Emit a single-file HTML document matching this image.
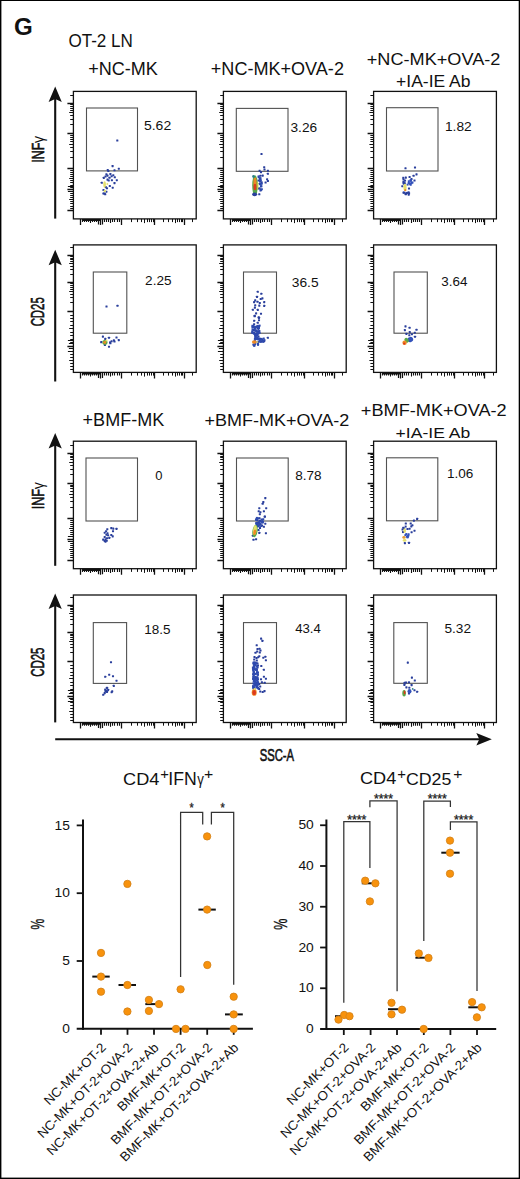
<!DOCTYPE html><html><head><meta charset="utf-8"><style>html,body{margin:0;padding:0;background:#fff;}svg{display:block;}text{font-family:"Liberation Sans",sans-serif;}</style></head><body>
<svg width="520" height="1179" viewBox="0 0 520 1179">
<rect x="0" y="0" width="520" height="1179" fill="#fff"/>
<rect x="0" y="0" width="520" height="1.0" fill="#000"/><rect x="0" y="0" width="1.4" height="1179" fill="#000"/><rect x="518.7" y="0" width="1.3" height="1179" fill="#000"/><rect x="0" y="1177.6" width="520" height="1.4" fill="#000"/>
<text x="14.03" y="34.75" font-size="24.73" font-weight="bold" textLength="18.78" lengthAdjust="spacingAndGlyphs" fill="#111" >G</text>
<text x="68.39" y="47.42" font-size="17.53" font-weight="normal" textLength="64.5" lengthAdjust="spacingAndGlyphs" fill="#111" >OT-2 LN</text>
<text x="88.3" y="75.22" font-size="17.81" font-weight="normal" textLength="69.61" lengthAdjust="spacingAndGlyphs" fill="#111" >+NC-MK</text>
<text x="210.8" y="75.22" font-size="17.67" font-weight="normal" textLength="133.14" lengthAdjust="spacingAndGlyphs" fill="#111" >+NC-MK+OVA-2</text>
<text x="366.79" y="65.33" font-size="17.39" font-weight="normal" textLength="133.55" lengthAdjust="spacingAndGlyphs" fill="#111" >+NC-MK+OVA-2</text>
<text x="396.13" y="86.64" font-size="16.33" font-weight="normal" textLength="74.37" lengthAdjust="spacingAndGlyphs" fill="#111" >+IA-IE Ab</text>
<text x="82.6" y="426.2" font-size="17.45" font-weight="normal" textLength="81.63" lengthAdjust="spacingAndGlyphs" fill="#111" >+BMF-MK</text>
<text x="204.6" y="426.23" font-size="17.24" font-weight="normal" textLength="144.62" lengthAdjust="spacingAndGlyphs" fill="#111" >+BMF-MK+OVA-2</text>
<text x="360.89" y="416.03" font-size="16.54" font-weight="normal" textLength="145.83" lengthAdjust="spacingAndGlyphs" fill="#111" >+BMF-MK+OVA-2</text>
<text x="395.62" y="437.54" font-size="15.51" font-weight="normal" textLength="74.58" lengthAdjust="spacingAndGlyphs" fill="#111" >+IA-IE Ab</text>
<g transform="translate(43.8,161.5) rotate(-90)">
<text x="-1.15" y="0" font-size="17.16" font-weight="normal" textLength="20.02" lengthAdjust="spacingAndGlyphs" fill="#111" stroke="#111" stroke-width="0.6">INF</text>
<text x="18.59" y="0" font-size="17.16" textLength="6.98" lengthAdjust="spacingAndGlyphs" fill="#111">γ</text>
</g>
<g transform="translate(44.4,325.8) rotate(-90)">
<text x="-0.57" y="0" font-size="18.62" font-weight="normal" textLength="29.15" lengthAdjust="spacingAndGlyphs" fill="#111" stroke="#111" stroke-width="0.6">CD25</text>
</g>
<g transform="translate(43.8,508.1) rotate(-90)">
<text x="-1.16" y="0" font-size="17.16" font-weight="normal" textLength="20.25" lengthAdjust="spacingAndGlyphs" fill="#111" stroke="#111" stroke-width="0.6">INF</text>
<text x="18.81" y="0" font-size="17.16" textLength="7.07" lengthAdjust="spacingAndGlyphs" fill="#111">γ</text>
</g>
<g transform="translate(44.4,676.2) rotate(-90)">
<text x="-0.57" y="0" font-size="18.62" font-weight="normal" textLength="29.25" lengthAdjust="spacingAndGlyphs" fill="#111" stroke="#111" stroke-width="0.6">CD25</text>
</g>
<line x1="55.2" y1="94.5" x2="55.2" y2="218.6" stroke="#111" stroke-width="2.1"/>
<path d="M55.2 86.5 L61.8 102 L55.2 99 L48.6 102 Z" fill="#111"/>
<line x1="55.2" y1="257.7" x2="55.2" y2="381.5" stroke="#111" stroke-width="2.1"/>
<path d="M55.2 249.7 L61.8 265.2 L55.2 262.2 L48.6 265.2 Z" fill="#111"/>
<line x1="55.2" y1="441" x2="55.2" y2="565.8" stroke="#111" stroke-width="2.1"/>
<path d="M55.2 433 L61.8 448.5 L55.2 445.5 L48.6 448.5 Z" fill="#111"/>
<line x1="55.2" y1="601.5" x2="55.2" y2="722.4" stroke="#111" stroke-width="2.1"/>
<path d="M55.2 593.5 L61.8 609 L55.2 606 L48.6 609 Z" fill="#111"/>
<line x1="55.2" y1="739.3" x2="484" y2="739.3" stroke="#111" stroke-width="2.1"/>
<path d="M491.8 739.3 L476.3 733.0 L479.3 739.3 L476.3 745.6 Z" fill="#111"/>
<text x="259.69" y="760.64" font-size="16.4" font-weight="normal" textLength="34.32" lengthAdjust="spacingAndGlyphs" fill="#111" stroke="#111" stroke-width="0.6">SSC-A</text>
<path d="M80.5 218.9v6M100.5 218.9v6M121.5 218.9v6M154.5 218.9v6M184.5 218.9v6M73.4 210.5h-6M73.4 189.5h-6M73.4 168.5h-6M73.4 133.5h-6M73.4 103.5h-6" stroke="#111" stroke-width="1.3" fill="none"/>
<path d="M98.5 218.9v5.5M102.5 218.9v5.5M73.4 186.5h-5.5M73.4 191.5h-5.5" stroke="#111" stroke-width="1.2" fill="none"/>
<path d="M98.5 218.9v3.2M102.5 218.9v3.2M96.5 218.9v3.2M104.5 218.9v3.2M94.5 218.9v3.2M106.5 218.9v3.2M92.5 218.9v3.2M108.5 218.9v3.2M90.5 218.9v4.2M110.5 218.9v4.2M88.5 218.9v3.2M112.5 218.9v3.2M86.5 218.9v3.2M114.5 218.9v3.2M84.5 218.9v3.2M117.5 218.9v3.2M82.5 218.9v3.2M119.5 218.9v3.2M99.5 218.9v2.2M97.5 218.9v2.2M95.5 218.9v2.2M93.5 218.9v2.2M91.5 218.9v2.2M89.5 218.9v2.2M87.5 218.9v2.2M85.5 218.9v2.2M83.5 218.9v2.2M73.4 191.5h-3.2M73.4 187.5h-3.2M73.4 193.5h-3.2M73.4 185.5h-3.2M73.4 195.5h-3.2M73.4 182.5h-3.2M73.4 197.5h-3.2M73.4 180.5h-3.2M73.4 199.5h-4.2M73.4 178.5h-4.2M73.4 201.5h-3.2M73.4 176.5h-3.2M73.4 203.5h-3.2M73.4 174.5h-3.2M73.4 206.5h-3.2M73.4 172.5h-3.2M73.4 208.5h-3.2M73.4 170.5h-3.2" stroke="#111" stroke-width="1.1" fill="none"/>
<path d="M131.5 218.9v3.2M137.5 218.9v3.2M141.5 218.9v3.2M144.5 218.9v4.2M147.5 218.9v3.2M149.5 218.9v3.2M151.5 218.9v3.2M153.5 218.9v3.2M163.5 218.9v3.2M168.5 218.9v3.2M172.5 218.9v3.2M175.5 218.9v4.2M177.5 218.9v3.2M179.5 218.9v3.2M181.5 218.9v3.2M182.5 218.9v3.2M192.5 218.9v3.2M73.4 157.5h-3.2M73.4 151.5h-3.2M73.4 147.5h-3.2M73.4 144.5h-4.2M73.4 141.5h-3.2M73.4 139.5h-3.2M73.4 137.5h-3.2M73.4 135.5h-3.2M73.4 124.5h-3.2M73.4 119.5h-3.2M73.4 115.5h-3.2M73.4 112.5h-4.2M73.4 110.5h-3.2M73.4 108.5h-3.2M73.4 106.5h-3.2M73.4 104.5h-3.2M73.4 95.5h-3.2" stroke="#111" stroke-width="1" fill="none"/>
<rect x="73.4" y="91.4" width="122.8" height="127.5" fill="none" stroke="#111" stroke-width="1.3"/>
<rect x="86.5" y="108" width="51" height="62.9" fill="none" stroke="#525252" stroke-width="1.1"/>
<text x="143.94" y="130.38" font-size="12.16" font-weight="normal" textLength="27.28" lengthAdjust="spacingAndGlyphs" fill="#111" >5.62</text>
<rect x="116.25" y="139.45" width="2.1" height="2.1" rx="0.4" fill="#2a3f9c"/>
<rect x="111.55" y="165.05" width="2.1" height="2.1" rx="0.4" fill="#2a3f9c"/>
<rect x="106.75" y="169.05" width="2.1" height="2.1" rx="0.4" fill="#2a3f9c"/>
<rect x="107.35" y="169.95" width="2.1" height="2.1" rx="0.4" fill="#2a3f9c"/>
<rect x="113.45" y="169.25" width="2.1" height="2.1" rx="0.4" fill="#2a3f9c"/>
<rect x="117.75" y="167.65" width="2.1" height="2.1" rx="0.4" fill="#2a3f9c"/>
<rect x="105.35" y="173.35" width="2.1" height="2.1" rx="0.4" fill="#2a3f9c"/>
<rect x="106.45" y="174.55" width="2.1" height="2.1" rx="0.4" fill="#2a3f9c"/>
<rect x="109.35" y="173.05" width="2.1" height="2.1" rx="0.4" fill="#2a3f9c"/>
<rect x="110.55" y="175.15" width="2.1" height="2.1" rx="0.4" fill="#2a3f9c"/>
<rect x="112.25" y="174.25" width="2.1" height="2.1" rx="0.4" fill="#2a3f9c"/>
<rect x="113.75" y="176.25" width="2.1" height="2.1" rx="0.4" fill="#2a3f9c"/>
<rect x="102.75" y="176.85" width="2.1" height="2.1" rx="0.4" fill="#2a3f9c"/>
<rect x="106.45" y="178.55" width="2.1" height="2.1" rx="0.4" fill="#2a3f9c"/>
<rect x="107.65" y="179.45" width="2.1" height="2.1" rx="0.4" fill="#2a3f9c"/>
<rect x="110.85" y="179.15" width="2.1" height="2.1" rx="0.4" fill="#2a3f9c"/>
<rect x="115.75" y="179.15" width="2.1" height="2.1" rx="0.4" fill="#2a3f9c"/>
<rect x="100.75" y="181.75" width="2.1" height="2.1" rx="0.4" fill="#2a3f9c"/>
<rect x="113.45" y="182.05" width="2.1" height="2.1" rx="0.4" fill="#2a3f9c"/>
<rect x="108.75" y="184.95" width="2.1" height="2.1" rx="0.4" fill="#2a3f9c"/>
<rect x="111.65" y="186.65" width="2.1" height="2.1" rx="0.4" fill="#2a3f9c"/>
<rect x="104.75" y="186.05" width="2.1" height="2.1" rx="0.4" fill="#2a3f9c"/>
<rect x="105.95" y="187.25" width="2.1" height="2.1" rx="0.4" fill="#2a3f9c"/>
<rect x="102.45" y="188.95" width="2.1" height="2.1" rx="0.4" fill="#2a3f9c"/>
<rect x="102.45" y="192.45" width="2.1" height="2.1" rx="0.4" fill="#2a3f9c"/>
<rect x="104.15" y="193.25" width="2.1" height="2.1" rx="0.4" fill="#2a3f9c"/>
<rect x="105.35" y="190.65" width="2.1" height="2.1" rx="0.4" fill="#2a3f9c"/>
<rect x="104.45" y="175.45" width="2.1" height="2.1" rx="0.4" fill="#2a3f9c"/>
<rect x="108.45" y="176.75" width="2.1" height="2.1" rx="0.4" fill="#2a3f9c"/>
<ellipse cx="104.6" cy="184.5" rx="1.3" ry="3.2" fill="#e4e06e"/>
<ellipse cx="104.8" cy="191" rx="1.2" ry="1.3" fill="#e4e06e"/>
<ellipse cx="107.3" cy="184" rx="0.9" ry="0.9" fill="#e4e06e"/>
<ellipse cx="104.2" cy="193.5" rx="1.6" ry="1" fill="#2a3f9c"/>
<path d="M230.5 218.9v6M250.5 218.9v6M271.5 218.9v6M304.5 218.9v6M334.5 218.9v6M223.4 210.5h-6M223.4 189.5h-6M223.4 168.5h-6M223.4 133.5h-6M223.4 103.5h-6" stroke="#111" stroke-width="1.3" fill="none"/>
<path d="M248.5 218.9v5.5M252.5 218.9v5.5M223.4 186.5h-5.5M223.4 191.5h-5.5" stroke="#111" stroke-width="1.2" fill="none"/>
<path d="M248.5 218.9v3.2M252.5 218.9v3.2M246.5 218.9v3.2M254.5 218.9v3.2M244.5 218.9v3.2M256.5 218.9v3.2M242.5 218.9v3.2M258.5 218.9v3.2M240.5 218.9v4.2M260.5 218.9v4.2M238.5 218.9v3.2M262.5 218.9v3.2M236.5 218.9v3.2M264.5 218.9v3.2M234.5 218.9v3.2M267.5 218.9v3.2M232.5 218.9v3.2M269.5 218.9v3.2M249.5 218.9v2.2M247.5 218.9v2.2M245.5 218.9v2.2M243.5 218.9v2.2M241.5 218.9v2.2M239.5 218.9v2.2M237.5 218.9v2.2M235.5 218.9v2.2M233.5 218.9v2.2M223.4 191.5h-3.2M223.4 187.5h-3.2M223.4 193.5h-3.2M223.4 185.5h-3.2M223.4 195.5h-3.2M223.4 182.5h-3.2M223.4 197.5h-3.2M223.4 180.5h-3.2M223.4 199.5h-4.2M223.4 178.5h-4.2M223.4 201.5h-3.2M223.4 176.5h-3.2M223.4 203.5h-3.2M223.4 174.5h-3.2M223.4 206.5h-3.2M223.4 172.5h-3.2M223.4 208.5h-3.2M223.4 170.5h-3.2" stroke="#111" stroke-width="1.1" fill="none"/>
<path d="M281.5 218.9v3.2M287.5 218.9v3.2M291.5 218.9v3.2M294.5 218.9v4.2M297.5 218.9v3.2M299.5 218.9v3.2M301.5 218.9v3.2M303.5 218.9v3.2M313.5 218.9v3.2M318.5 218.9v3.2M322.5 218.9v3.2M325.5 218.9v4.2M327.5 218.9v3.2M329.5 218.9v3.2M331.5 218.9v3.2M332.5 218.9v3.2M342.5 218.9v3.2M223.4 157.5h-3.2M223.4 151.5h-3.2M223.4 147.5h-3.2M223.4 144.5h-4.2M223.4 141.5h-3.2M223.4 139.5h-3.2M223.4 137.5h-3.2M223.4 135.5h-3.2M223.4 124.5h-3.2M223.4 119.5h-3.2M223.4 115.5h-3.2M223.4 112.5h-4.2M223.4 110.5h-3.2M223.4 108.5h-3.2M223.4 106.5h-3.2M223.4 104.5h-3.2M223.4 95.5h-3.2" stroke="#111" stroke-width="1" fill="none"/>
<rect x="223.4" y="91.4" width="122.8" height="127.5" fill="none" stroke="#111" stroke-width="1.3"/>
<rect x="236.3" y="108.4" width="51.7" height="62.9" fill="none" stroke="#525252" stroke-width="1.1"/>
<text x="290.49" y="132.07" font-size="12.86" font-weight="normal" textLength="26.61" lengthAdjust="spacingAndGlyphs" fill="#111" >3.26</text>
<rect x="260.45" y="152.95" width="2.1" height="2.1" rx="0.4" fill="#2a3f9c"/>
<rect x="263.15" y="166.15" width="2.1" height="2.1" rx="0.4" fill="#2a3f9c"/>
<rect x="263.45" y="168.45" width="2.1" height="2.1" rx="0.4" fill="#2a3f9c"/>
<rect x="258.55" y="169.65" width="2.1" height="2.1" rx="0.4" fill="#2a3f9c"/>
<rect x="259.95" y="171.05" width="2.1" height="2.1" rx="0.4" fill="#2a3f9c"/>
<rect x="266.85" y="169.65" width="2.1" height="2.1" rx="0.4" fill="#2a3f9c"/>
<rect x="266.85" y="172.75" width="2.1" height="2.1" rx="0.4" fill="#2a3f9c"/>
<rect x="259.35" y="174.75" width="2.1" height="2.1" rx="0.4" fill="#2a3f9c"/>
<rect x="261.65" y="174.55" width="2.1" height="2.1" rx="0.4" fill="#2a3f9c"/>
<rect x="258.75" y="177.15" width="2.1" height="2.1" rx="0.4" fill="#2a3f9c"/>
<rect x="266.05" y="178.25" width="2.1" height="2.1" rx="0.4" fill="#2a3f9c"/>
<rect x="266.85" y="179.95" width="2.1" height="2.1" rx="0.4" fill="#2a3f9c"/>
<rect x="264.55" y="181.45" width="2.1" height="2.1" rx="0.4" fill="#2a3f9c"/>
<rect x="260.55" y="181.15" width="2.1" height="2.1" rx="0.4" fill="#2a3f9c"/>
<rect x="258.75" y="182.85" width="2.1" height="2.1" rx="0.4" fill="#2a3f9c"/>
<rect x="259.95" y="185.15" width="2.1" height="2.1" rx="0.4" fill="#2a3f9c"/>
<rect x="257.95" y="187.45" width="2.1" height="2.1" rx="0.4" fill="#2a3f9c"/>
<rect x="258.25" y="193.25" width="2.1" height="2.1" rx="0.4" fill="#2a3f9c"/>
<rect x="257.45" y="179.45" width="2.1" height="2.1" rx="0.4" fill="#2a3f9c"/>
<rect x="259.45" y="189.45" width="2.1" height="2.1" rx="0.4" fill="#2a3f9c"/>
<ellipse cx="255" cy="185.5" rx="2.8" ry="10.2" fill="#58a84a"/>
<ellipse cx="255" cy="182.5" rx="1.6" ry="5" fill="#ee8a24"/>
<ellipse cx="255" cy="187" rx="1.5" ry="3.2" fill="#dd3a1e"/>
<ellipse cx="253.5" cy="176.5" rx="1.3" ry="1.4" fill="#2a7f86"/>
<rect x="260.85" y="188.27" width="2" height="2" fill="#2e4aae"/>
<rect x="257.7" y="176.19" width="2" height="2" fill="#2e4aae"/>
<rect x="260.42" y="185.3" width="2" height="2" fill="#2e4aae"/>
<rect x="259.84" y="179.31" width="2" height="2" fill="#2e4aae"/>
<rect x="259.62" y="183.5" width="2" height="2" fill="#2e4aae"/>
<rect x="259.53" y="177.22" width="2" height="2" fill="#2e4aae"/>
<rect x="259.01" y="180.51" width="2" height="2" fill="#2e4aae"/>
<rect x="260.03" y="188.93" width="2" height="2" fill="#2e4aae"/>
<rect x="260.82" y="182.62" width="2" height="2" fill="#2e4aae"/>
<rect x="259.06" y="178.76" width="2" height="2" fill="#2e4aae"/>
<rect x="257.63" y="175.38" width="2" height="2" fill="#2e4aae"/>
<rect x="259.13" y="179.46" width="2" height="2" fill="#2e4aae"/>
<rect x="258.83" y="187.49" width="2" height="2" fill="#2e4aae"/>
<rect x="259.34" y="182.85" width="2" height="2" fill="#2e4aae"/>
<ellipse cx="254.6" cy="194.3" rx="2.5" ry="1.9" fill="#2a3f9c"/>
<ellipse cx="257.6" cy="186" rx="0.8" ry="4" fill="#b8c84a"/>
<path d="M380.5 218.9v6M400.5 218.9v6M421.5 218.9v6M454.5 218.9v6M484.5 218.9v6M373.6 210.5h-6M373.6 189.5h-6M373.6 168.5h-6M373.6 133.5h-6M373.6 103.5h-6" stroke="#111" stroke-width="1.3" fill="none"/>
<path d="M398.5 218.9v5.5M402.5 218.9v5.5M373.6 186.5h-5.5M373.6 191.5h-5.5" stroke="#111" stroke-width="1.2" fill="none"/>
<path d="M398.5 218.9v3.2M402.5 218.9v3.2M396.5 218.9v3.2M404.5 218.9v3.2M394.5 218.9v3.2M406.5 218.9v3.2M392.5 218.9v3.2M408.5 218.9v3.2M390.5 218.9v4.2M411.5 218.9v4.2M388.5 218.9v3.2M413.5 218.9v3.2M386.5 218.9v3.2M415.5 218.9v3.2M384.5 218.9v3.2M417.5 218.9v3.2M382.5 218.9v3.2M419.5 218.9v3.2M399.5 218.9v2.2M397.5 218.9v2.2M395.5 218.9v2.2M393.5 218.9v2.2M391.5 218.9v2.2M389.5 218.9v2.2M387.5 218.9v2.2M385.5 218.9v2.2M383.5 218.9v2.2M373.6 191.5h-3.2M373.6 187.5h-3.2M373.6 193.5h-3.2M373.6 185.5h-3.2M373.6 195.5h-3.2M373.6 182.5h-3.2M373.6 197.5h-3.2M373.6 180.5h-3.2M373.6 199.5h-4.2M373.6 178.5h-4.2M373.6 201.5h-3.2M373.6 176.5h-3.2M373.6 203.5h-3.2M373.6 174.5h-3.2M373.6 206.5h-3.2M373.6 172.5h-3.2M373.6 208.5h-3.2M373.6 170.5h-3.2" stroke="#111" stroke-width="1.1" fill="none"/>
<path d="M431.5 218.9v3.2M437.5 218.9v3.2M441.5 218.9v3.2M444.5 218.9v4.2M447.5 218.9v3.2M449.5 218.9v3.2M451.5 218.9v3.2M453.5 218.9v3.2M463.5 218.9v3.2M468.5 218.9v3.2M472.5 218.9v3.2M475.5 218.9v4.2M477.5 218.9v3.2M479.5 218.9v3.2M481.5 218.9v3.2M483.5 218.9v3.2M493.5 218.9v3.2M373.6 157.5h-3.2M373.6 151.5h-3.2M373.6 147.5h-3.2M373.6 144.5h-4.2M373.6 141.5h-3.2M373.6 139.5h-3.2M373.6 137.5h-3.2M373.6 135.5h-3.2M373.6 124.5h-3.2M373.6 119.5h-3.2M373.6 115.5h-3.2M373.6 112.5h-4.2M373.6 110.5h-3.2M373.6 108.5h-3.2M373.6 106.5h-3.2M373.6 104.5h-3.2M373.6 95.5h-3.2" stroke="#111" stroke-width="1" fill="none"/>
<rect x="373.6" y="91.4" width="122.8" height="127.5" fill="none" stroke="#111" stroke-width="1.3"/>
<rect x="386.5" y="107.7" width="51.5" height="63.3" fill="none" stroke="#525252" stroke-width="1.1"/>
<text x="444.97" y="130.87" font-size="12.58" font-weight="normal" textLength="26.74" lengthAdjust="spacingAndGlyphs" fill="#111" >1.82</text>
<rect x="404.45" y="167.25" width="2.1" height="2.1" rx="0.4" fill="#2a3f9c"/>
<rect x="413.95" y="166.45" width="2.1" height="2.1" rx="0.4" fill="#2a3f9c"/>
<rect x="415.45" y="173.35" width="2.1" height="2.1" rx="0.4" fill="#2a3f9c"/>
<rect x="412.55" y="174.75" width="2.1" height="2.1" rx="0.4" fill="#2a3f9c"/>
<rect x="408.55" y="175.95" width="2.1" height="2.1" rx="0.4" fill="#2a3f9c"/>
<rect x="404.75" y="176.55" width="2.1" height="2.1" rx="0.4" fill="#2a3f9c"/>
<rect x="402.45" y="178.25" width="2.1" height="2.1" rx="0.4" fill="#2a3f9c"/>
<rect x="413.45" y="179.45" width="2.1" height="2.1" rx="0.4" fill="#2a3f9c"/>
<rect x="402.45" y="180.55" width="2.1" height="2.1" rx="0.4" fill="#2a3f9c"/>
<rect x="401.25" y="185.15" width="2.1" height="2.1" rx="0.4" fill="#2a3f9c"/>
<rect x="407.95" y="187.45" width="2.1" height="2.1" rx="0.4" fill="#2a3f9c"/>
<rect x="402.45" y="191.55" width="2.1" height="2.1" rx="0.4" fill="#2a3f9c"/>
<rect x="404.75" y="193.25" width="2.1" height="2.1" rx="0.4" fill="#2a3f9c"/>
<rect x="407.65" y="193.55" width="2.1" height="2.1" rx="0.4" fill="#2a3f9c"/>
<rect x="410.45" y="177.95" width="2.1" height="2.1" rx="0.4" fill="#2a3f9c"/>
<rect x="407.69" y="181.99" width="2" height="2" fill="#3352bb"/>
<rect x="408.35" y="182.32" width="2" height="2" fill="#3352bb"/>
<rect x="409.63" y="179.36" width="2" height="2" fill="#3352bb"/>
<rect x="406.57" y="183.61" width="2" height="2" fill="#3352bb"/>
<rect x="407.8" y="180.29" width="2" height="2" fill="#3352bb"/>
<rect x="411.48" y="181.59" width="2" height="2" fill="#3352bb"/>
<rect x="410.68" y="181.62" width="2" height="2" fill="#3352bb"/>
<rect x="409.7" y="179.83" width="2" height="2" fill="#3352bb"/>
<rect x="409.67" y="183.77" width="2" height="2" fill="#3352bb"/>
<rect x="409.12" y="183.08" width="2" height="2" fill="#3352bb"/>
<rect x="409.86" y="179.35" width="2" height="2" fill="#3352bb"/>
<rect x="410.29" y="182.25" width="2" height="2" fill="#3352bb"/>
<rect x="402.26" y="176.8" width="2" height="2" fill="#2a3f9c"/>
<rect x="404.07" y="179.63" width="2" height="2" fill="#2a3f9c"/>
<rect x="403.6" y="182.22" width="2" height="2" fill="#2a3f9c"/>
<rect x="403.59" y="182.5" width="2" height="2" fill="#2a3f9c"/>
<rect x="402.56" y="181.73" width="2" height="2" fill="#2a3f9c"/>
<rect x="402.72" y="182.59" width="2" height="2" fill="#2a3f9c"/>
<ellipse cx="405" cy="187.3" rx="1.6" ry="3.6" fill="#e4e06e"/>
<ellipse cx="405.3" cy="190.2" rx="1.1" ry="1.1" fill="#ee8a24"/>
<rect x="407.6" y="191.29" width="2" height="2" fill="#2a3f9c"/>
<rect x="403.29" y="191.65" width="2" height="2" fill="#2a3f9c"/>
<rect x="408.1" y="192.31" width="2" height="2" fill="#2a3f9c"/>
<rect x="406.13" y="191.9" width="2" height="2" fill="#2a3f9c"/>
<rect x="405.44" y="192.16" width="2" height="2" fill="#2a3f9c"/>
<rect x="404.54" y="192.76" width="2" height="2" fill="#2a3f9c"/>
<path d="M80.5 372.4v6M100.5 372.4v6M121.5 372.4v6M154.5 372.4v6M184.5 372.4v6M73.4 346.5h-6M73.4 311.5h-6M73.4 282.5h-6M73.4 255.5h-6" stroke="#111" stroke-width="1.3" fill="none"/>
<path d="M98.5 372.4v5.5M102.5 372.4v5.5M73.4 340.5h-5.5M73.4 351.5h-5.5" stroke="#111" stroke-width="1.2" fill="none"/>
<path d="M98.5 372.4v3.2M102.5 372.4v3.2M96.5 372.4v3.2M104.5 372.4v3.2M94.5 372.4v3.2M106.5 372.4v3.2M92.5 372.4v3.2M108.5 372.4v3.2M90.5 372.4v4.2M110.5 372.4v4.2M88.5 372.4v3.2M112.5 372.4v3.2M86.5 372.4v3.2M114.5 372.4v3.2M84.5 372.4v3.2M117.5 372.4v3.2M82.5 372.4v3.2M119.5 372.4v3.2M99.5 372.4v2.2M97.5 372.4v2.2M95.5 372.4v2.2M93.5 372.4v2.2M91.5 372.4v2.2M89.5 372.4v2.2M87.5 372.4v2.2M85.5 372.4v2.2M83.5 372.4v2.2M73.4 348.5h-3.2M73.4 342.5h-3.2M73.4 351.5h-3.2M73.4 339.5h-3.2M73.4 354.5h-3.2M73.4 335.5h-3.2M73.4 357.5h-3.2M73.4 332.5h-3.2M73.4 360.5h-4.2M73.4 328.5h-4.2M73.4 363.5h-3.2M73.4 325.5h-3.2M73.4 366.5h-3.2M73.4 321.5h-3.2M73.4 369.5h-3.2M73.4 318.5h-3.2M73.4 315.5h-3.2" stroke="#111" stroke-width="1.1" fill="none"/>
<path d="M131.5 372.4v3.2M137.5 372.4v3.2M141.5 372.4v3.2M144.5 372.4v4.2M147.5 372.4v3.2M149.5 372.4v3.2M151.5 372.4v3.2M153.5 372.4v3.2M163.5 372.4v3.2M168.5 372.4v3.2M172.5 372.4v3.2M175.5 372.4v4.2M177.5 372.4v3.2M179.5 372.4v3.2M181.5 372.4v3.2M182.5 372.4v3.2M192.5 372.4v3.2M73.4 343.5h-4.5M73.4 348.5h-4.5M73.4 302.5h-3.2M73.4 297.5h-3.2M73.4 294.5h-3.2M73.4 291.5h-4.2M73.4 289.5h-3.2M73.4 287.5h-3.2M73.4 285.5h-3.2M73.4 283.5h-3.2M73.4 274.5h-3.2M73.4 269.5h-3.2M73.4 266.5h-3.2M73.4 263.5h-4.2M73.4 261.5h-3.2M73.4 259.5h-3.2M73.4 258.5h-3.2M73.4 256.5h-3.2M73.4 247.5h-3.2" stroke="#111" stroke-width="1" fill="none"/>
<rect x="73.4" y="244.9" width="122.8" height="127.5" fill="none" stroke="#111" stroke-width="1.3"/>
<rect x="93.3" y="272" width="33.5" height="61.2" fill="none" stroke="#525252" stroke-width="1.1"/>
<text x="145.12" y="285.38" font-size="12.16" font-weight="normal" textLength="26.44" lengthAdjust="spacingAndGlyphs" fill="#111" >2.25</text>
<rect x="105.45" y="305.45" width="2.1" height="2.1" rx="0.4" fill="#2a3f9c"/>
<rect x="116.45" y="304.75" width="2.1" height="2.1" rx="0.4" fill="#2a3f9c"/>
<rect x="101.85" y="335.55" width="2.1" height="2.1" rx="0.4" fill="#2a3f9c"/>
<rect x="104.15" y="337.85" width="2.1" height="2.1" rx="0.4" fill="#2a3f9c"/>
<rect x="107.95" y="336.75" width="2.1" height="2.1" rx="0.4" fill="#2a3f9c"/>
<rect x="115.45" y="336.45" width="2.1" height="2.1" rx="0.4" fill="#2a3f9c"/>
<rect x="117.75" y="339.05" width="2.1" height="2.1" rx="0.4" fill="#2a3f9c"/>
<rect x="112.85" y="339.35" width="2.1" height="2.1" rx="0.4" fill="#2a3f9c"/>
<rect x="110.55" y="340.25" width="2.1" height="2.1" rx="0.4" fill="#2a3f9c"/>
<rect x="109.05" y="341.35" width="2.1" height="2.1" rx="0.4" fill="#2a3f9c"/>
<rect x="109.35" y="342.25" width="2.1" height="2.1" rx="0.4" fill="#2a3f9c"/>
<rect x="100.15" y="341.05" width="2.1" height="2.1" rx="0.4" fill="#2a3f9c"/>
<rect x="103.85" y="343.95" width="2.1" height="2.1" rx="0.4" fill="#2a3f9c"/>
<rect x="107.95" y="345.65" width="2.1" height="2.1" rx="0.4" fill="#2a3f9c"/>
<rect x="113.45" y="340.45" width="2.1" height="2.1" rx="0.4" fill="#2a3f9c"/>
<ellipse cx="104.9" cy="342.4" rx="2.6" ry="2.4" fill="#58a84a"/>
<ellipse cx="104.7" cy="342.4" rx="1.5" ry="1.4" fill="#ee8a24"/>
<ellipse cx="106.5" cy="340.5" rx="1" ry="1" fill="#e4e06e"/>
<path d="M230.5 372.4v6M250.5 372.4v6M271.5 372.4v6M304.5 372.4v6M334.5 372.4v6M223.4 346.5h-6M223.4 311.5h-6M223.4 282.5h-6M223.4 255.5h-6" stroke="#111" stroke-width="1.3" fill="none"/>
<path d="M248.5 372.4v5.5M252.5 372.4v5.5M223.4 340.5h-5.5M223.4 351.5h-5.5" stroke="#111" stroke-width="1.2" fill="none"/>
<path d="M248.5 372.4v3.2M252.5 372.4v3.2M246.5 372.4v3.2M254.5 372.4v3.2M244.5 372.4v3.2M256.5 372.4v3.2M242.5 372.4v3.2M258.5 372.4v3.2M240.5 372.4v4.2M260.5 372.4v4.2M238.5 372.4v3.2M262.5 372.4v3.2M236.5 372.4v3.2M264.5 372.4v3.2M234.5 372.4v3.2M267.5 372.4v3.2M232.5 372.4v3.2M269.5 372.4v3.2M249.5 372.4v2.2M247.5 372.4v2.2M245.5 372.4v2.2M243.5 372.4v2.2M241.5 372.4v2.2M239.5 372.4v2.2M237.5 372.4v2.2M235.5 372.4v2.2M233.5 372.4v2.2M223.4 348.5h-3.2M223.4 342.5h-3.2M223.4 351.5h-3.2M223.4 339.5h-3.2M223.4 354.5h-3.2M223.4 335.5h-3.2M223.4 357.5h-3.2M223.4 332.5h-3.2M223.4 360.5h-4.2M223.4 328.5h-4.2M223.4 363.5h-3.2M223.4 325.5h-3.2M223.4 366.5h-3.2M223.4 321.5h-3.2M223.4 369.5h-3.2M223.4 318.5h-3.2M223.4 315.5h-3.2" stroke="#111" stroke-width="1.1" fill="none"/>
<path d="M281.5 372.4v3.2M287.5 372.4v3.2M291.5 372.4v3.2M294.5 372.4v4.2M297.5 372.4v3.2M299.5 372.4v3.2M301.5 372.4v3.2M303.5 372.4v3.2M313.5 372.4v3.2M318.5 372.4v3.2M322.5 372.4v3.2M325.5 372.4v4.2M327.5 372.4v3.2M329.5 372.4v3.2M331.5 372.4v3.2M332.5 372.4v3.2M342.5 372.4v3.2M223.4 343.5h-4.5M223.4 348.5h-4.5M223.4 302.5h-3.2M223.4 297.5h-3.2M223.4 294.5h-3.2M223.4 291.5h-4.2M223.4 289.5h-3.2M223.4 287.5h-3.2M223.4 285.5h-3.2M223.4 283.5h-3.2M223.4 274.5h-3.2M223.4 269.5h-3.2M223.4 266.5h-3.2M223.4 263.5h-4.2M223.4 261.5h-3.2M223.4 259.5h-3.2M223.4 258.5h-3.2M223.4 256.5h-3.2M223.4 247.5h-3.2" stroke="#111" stroke-width="1" fill="none"/>
<rect x="223.4" y="244.9" width="122.8" height="127.5" fill="none" stroke="#111" stroke-width="1.3"/>
<rect x="243.5" y="272" width="33" height="61.2" fill="none" stroke="#525252" stroke-width="1.1"/>
<text x="291.78" y="286.57" font-size="12.86" font-weight="normal" textLength="26.79" lengthAdjust="spacingAndGlyphs" fill="#111" >36.5</text>
<rect x="256.75" y="290.75" width="2.1" height="2.1" rx="0.4" fill="#2a3f9c"/>
<rect x="260.25" y="292.75" width="2.1" height="2.1" rx="0.4" fill="#2a3f9c"/>
<rect x="255.95" y="295.85" width="2.1" height="2.1" rx="0.4" fill="#2a3f9c"/>
<rect x="259.65" y="297.95" width="2.1" height="2.1" rx="0.4" fill="#2a3f9c"/>
<rect x="261.35" y="297.35" width="2.1" height="2.1" rx="0.4" fill="#2a3f9c"/>
<rect x="254.15" y="299.35" width="2.1" height="2.1" rx="0.4" fill="#2a3f9c"/>
<rect x="253.05" y="301.05" width="2.1" height="2.1" rx="0.4" fill="#2a3f9c"/>
<rect x="256.45" y="300.75" width="2.1" height="2.1" rx="0.4" fill="#2a3f9c"/>
<rect x="258.75" y="301.95" width="2.1" height="2.1" rx="0.4" fill="#2a3f9c"/>
<rect x="263.15" y="301.05" width="2.1" height="2.1" rx="0.4" fill="#2a3f9c"/>
<rect x="258.25" y="304.55" width="2.1" height="2.1" rx="0.4" fill="#2a3f9c"/>
<rect x="263.15" y="304.85" width="2.1" height="2.1" rx="0.4" fill="#2a3f9c"/>
<rect x="254.15" y="304.25" width="2.1" height="2.1" rx="0.4" fill="#2a3f9c"/>
<rect x="253.85" y="306.55" width="2.1" height="2.1" rx="0.4" fill="#2a3f9c"/>
<rect x="251.85" y="308.75" width="2.1" height="2.1" rx="0.4" fill="#2a3f9c"/>
<rect x="256.75" y="308.85" width="2.1" height="2.1" rx="0.4" fill="#2a3f9c"/>
<rect x="255.05" y="312.35" width="2.1" height="2.1" rx="0.4" fill="#2a3f9c"/>
<rect x="259.95" y="312.65" width="2.1" height="2.1" rx="0.4" fill="#2a3f9c"/>
<rect x="253.65" y="315.25" width="2.1" height="2.1" rx="0.4" fill="#2a3f9c"/>
<rect x="257.65" y="316.35" width="2.1" height="2.1" rx="0.4" fill="#2a3f9c"/>
<rect x="253.65" y="314.85" width="2.1" height="2.1" rx="0.4" fill="#2a3f9c"/>
<rect x="257.95" y="316.85" width="2.1" height="2.1" rx="0.4" fill="#2a3f9c"/>
<rect x="257.95" y="319.15" width="2.1" height="2.1" rx="0.4" fill="#2a3f9c"/>
<rect x="253.05" y="319.75" width="2.1" height="2.1" rx="0.4" fill="#2a3f9c"/>
<rect x="256.75" y="321.75" width="2.1" height="2.1" rx="0.4" fill="#2a3f9c"/>
<rect x="253.05" y="323.15" width="2.1" height="2.1" rx="0.4" fill="#2a3f9c"/>
<rect x="266.85" y="336.75" width="2.1" height="2.1" rx="0.4" fill="#2a3f9c"/>
<rect x="253.05" y="344.55" width="2.1" height="2.1" rx="0.4" fill="#2a3f9c"/>
<rect x="257.05" y="343.35" width="2.1" height="2.1" rx="0.4" fill="#2a3f9c"/>
<rect x="251.95" y="325.45" width="2.1" height="2.1" rx="0.4" fill="#2a3f9c"/>
<rect x="254.45" y="326.45" width="2.1" height="2.1" rx="0.4" fill="#2a3f9c"/>
<rect x="256.95" y="326.95" width="2.1" height="2.1" rx="0.4" fill="#2a3f9c"/>
<rect x="252.45" y="328.95" width="2.1" height="2.1" rx="0.4" fill="#2a3f9c"/>
<rect x="255.45" y="329.95" width="2.1" height="2.1" rx="0.4" fill="#2a3f9c"/>
<rect x="257.95" y="330.45" width="2.1" height="2.1" rx="0.4" fill="#2a3f9c"/>
<rect x="252.95" y="331.95" width="2.1" height="2.1" rx="0.4" fill="#2a3f9c"/>
<rect x="255.95" y="332.95" width="2.1" height="2.1" rx="0.4" fill="#2a3f9c"/>
<rect x="254.45" y="334.95" width="2.1" height="2.1" rx="0.4" fill="#2a3f9c"/>
<rect x="257.45" y="335.45" width="2.1" height="2.1" rx="0.4" fill="#2a3f9c"/>
<rect x="255.45" y="337.45" width="2.1" height="2.1" rx="0.4" fill="#2a3f9c"/>
<rect x="259.45" y="337.75" width="2.1" height="2.1" rx="0.4" fill="#2a3f9c"/>
<rect x="261.45" y="338.95" width="2.1" height="2.1" rx="0.4" fill="#2a3f9c"/>
<rect x="263.15" y="340.15" width="2.1" height="2.1" rx="0.4" fill="#2a3f9c"/>
<rect x="259.95" y="340.75" width="2.1" height="2.1" rx="0.4" fill="#2a3f9c"/>
<rect x="257.45" y="340.45" width="2.1" height="2.1" rx="0.4" fill="#2a3f9c"/>
<rect x="255.97" y="330.78" width="2" height="2" fill="#2e4aae"/>
<rect x="257.26" y="332.51" width="2" height="2" fill="#2e4aae"/>
<rect x="256.85" y="332.33" width="2" height="2" fill="#2e4aae"/>
<rect x="251.52" y="328.4" width="2" height="2" fill="#2e4aae"/>
<rect x="258.38" y="329.98" width="2" height="2" fill="#2e4aae"/>
<rect x="258.06" y="325.37" width="2" height="2" fill="#2e4aae"/>
<rect x="254.82" y="326.52" width="2" height="2" fill="#2e4aae"/>
<rect x="255.38" y="329.34" width="2" height="2" fill="#2e4aae"/>
<rect x="251.4" y="326.26" width="2" height="2" fill="#2e4aae"/>
<rect x="253.4" y="332.28" width="2" height="2" fill="#2e4aae"/>
<rect x="257.04" y="325.77" width="2" height="2" fill="#2e4aae"/>
<rect x="257.28" y="325.59" width="2" height="2" fill="#2e4aae"/>
<rect x="255.93" y="325.49" width="2" height="2" fill="#2e4aae"/>
<rect x="251.31" y="331.89" width="2" height="2" fill="#2e4aae"/>
<rect x="252.87" y="326.25" width="2" height="2" fill="#2e4aae"/>
<rect x="258.67" y="331.9" width="2" height="2" fill="#2e4aae"/>
<rect x="253.47" y="332.67" width="2" height="2" fill="#2e4aae"/>
<rect x="255.34" y="330.23" width="2" height="2" fill="#2e4aae"/>
<rect x="252.84" y="332.49" width="2" height="2" fill="#2e4aae"/>
<rect x="256.48" y="332.71" width="2" height="2" fill="#2e4aae"/>
<rect x="258" y="326.97" width="2" height="2" fill="#2e4aae"/>
<rect x="254.01" y="325.83" width="2" height="2" fill="#2e4aae"/>
<rect x="252.39" y="324.96" width="2" height="2" fill="#2e4aae"/>
<rect x="253.56" y="329.59" width="2" height="2" fill="#2e4aae"/>
<rect x="251.33" y="330.23" width="2" height="2" fill="#2e4aae"/>
<rect x="253.83" y="327.07" width="2" height="2" fill="#2e4aae"/>
<rect x="257.44" y="328.53" width="2" height="2" fill="#2e4aae"/>
<rect x="253.67" y="328.54" width="2" height="2" fill="#2e4aae"/>
<rect x="256.59" y="324.89" width="2" height="2" fill="#2e4aae"/>
<rect x="258.61" y="324.6" width="2" height="2" fill="#2e4aae"/>
<rect x="256.92" y="331.67" width="2" height="2" fill="#2e4aae"/>
<rect x="251.44" y="331.17" width="2" height="2" fill="#2e4aae"/>
<rect x="254.05" y="329.38" width="2" height="2" fill="#2e4aae"/>
<rect x="251.37" y="324.8" width="2" height="2" fill="#2e4aae"/>
<rect x="254.62" y="337.97" width="2" height="2" fill="#2e4aae"/>
<rect x="254.7" y="336.93" width="2" height="2" fill="#2e4aae"/>
<rect x="258.44" y="337.9" width="2" height="2" fill="#2e4aae"/>
<rect x="255.46" y="334.84" width="2" height="2" fill="#2e4aae"/>
<rect x="256.38" y="337.03" width="2" height="2" fill="#2e4aae"/>
<rect x="254.25" y="336.89" width="2" height="2" fill="#2e4aae"/>
<rect x="257.77" y="337.47" width="2" height="2" fill="#2e4aae"/>
<rect x="253.89" y="337.92" width="2" height="2" fill="#2e4aae"/>
<rect x="254.17" y="334.77" width="2" height="2" fill="#2e4aae"/>
<rect x="256.82" y="337.77" width="2" height="2" fill="#2e4aae"/>
<rect x="255.43" y="337.81" width="2" height="2" fill="#2e4aae"/>
<rect x="256.48" y="334.62" width="2" height="2" fill="#2e4aae"/>
<rect x="255.32" y="333.92" width="2" height="2" fill="#2e4aae"/>
<rect x="254.1" y="333.77" width="2" height="2" fill="#2e4aae"/>
<rect x="257.21" y="338.18" width="2" height="2" fill="#2e4aae"/>
<rect x="254.52" y="333.25" width="2" height="2" fill="#2e4aae"/>
<rect x="263.44" y="339.13" width="2" height="2" fill="#2e4aae"/>
<rect x="260.71" y="337.95" width="2" height="2" fill="#2e4aae"/>
<rect x="261.59" y="340.31" width="2" height="2" fill="#2e4aae"/>
<rect x="260.94" y="338.69" width="2" height="2" fill="#2e4aae"/>
<rect x="259.06" y="340.66" width="2" height="2" fill="#2e4aae"/>
<rect x="258.95" y="338.97" width="2" height="2" fill="#2e4aae"/>
<rect x="262.74" y="337.52" width="2" height="2" fill="#2e4aae"/>
<rect x="262.24" y="340.8" width="2" height="2" fill="#2e4aae"/>
<rect x="261.76" y="340.15" width="2" height="2" fill="#2e4aae"/>
<rect x="259.3" y="338.74" width="2" height="2" fill="#2e4aae"/>
<rect x="252.32" y="343.65" width="2" height="2" fill="#2e4aae"/>
<rect x="253.12" y="341.49" width="2" height="2" fill="#2e4aae"/>
<rect x="257" y="343.69" width="2" height="2" fill="#2e4aae"/>
<rect x="256.87" y="341.49" width="2" height="2" fill="#2e4aae"/>
<rect x="254.18" y="343.01" width="2" height="2" fill="#2e4aae"/>
<rect x="254.13" y="340.6" width="2" height="2" fill="#2e4aae"/>
<rect x="253.72" y="339.81" width="2" height="2" fill="#2e4aae"/>
<rect x="253.57" y="344.44" width="2" height="2" fill="#2e4aae"/>
<rect x="256.78" y="342.45" width="2" height="2" fill="#2e4aae"/>
<rect x="254.25" y="340.86" width="2" height="2" fill="#2e4aae"/>
<ellipse cx="254.3" cy="342" rx="2.4" ry="1.7" fill="#ee8a24"/>
<ellipse cx="257.5" cy="342.1" rx="0.8" ry="0.8" fill="#e4e06e"/>
<path d="M380.5 372.4v6M400.5 372.4v6M421.5 372.4v6M454.5 372.4v6M484.5 372.4v6M373.6 346.5h-6M373.6 311.5h-6M373.6 282.5h-6M373.6 255.5h-6" stroke="#111" stroke-width="1.3" fill="none"/>
<path d="M398.5 372.4v5.5M402.5 372.4v5.5M373.6 340.5h-5.5M373.6 351.5h-5.5" stroke="#111" stroke-width="1.2" fill="none"/>
<path d="M398.5 372.4v3.2M402.5 372.4v3.2M396.5 372.4v3.2M404.5 372.4v3.2M394.5 372.4v3.2M406.5 372.4v3.2M392.5 372.4v3.2M408.5 372.4v3.2M390.5 372.4v4.2M411.5 372.4v4.2M388.5 372.4v3.2M413.5 372.4v3.2M386.5 372.4v3.2M415.5 372.4v3.2M384.5 372.4v3.2M417.5 372.4v3.2M382.5 372.4v3.2M419.5 372.4v3.2M399.5 372.4v2.2M397.5 372.4v2.2M395.5 372.4v2.2M393.5 372.4v2.2M391.5 372.4v2.2M389.5 372.4v2.2M387.5 372.4v2.2M385.5 372.4v2.2M383.5 372.4v2.2M373.6 348.5h-3.2M373.6 342.5h-3.2M373.6 351.5h-3.2M373.6 339.5h-3.2M373.6 354.5h-3.2M373.6 335.5h-3.2M373.6 357.5h-3.2M373.6 332.5h-3.2M373.6 360.5h-4.2M373.6 328.5h-4.2M373.6 363.5h-3.2M373.6 325.5h-3.2M373.6 366.5h-3.2M373.6 321.5h-3.2M373.6 369.5h-3.2M373.6 318.5h-3.2M373.6 315.5h-3.2" stroke="#111" stroke-width="1.1" fill="none"/>
<path d="M431.5 372.4v3.2M437.5 372.4v3.2M441.5 372.4v3.2M444.5 372.4v4.2M447.5 372.4v3.2M449.5 372.4v3.2M451.5 372.4v3.2M453.5 372.4v3.2M463.5 372.4v3.2M468.5 372.4v3.2M472.5 372.4v3.2M475.5 372.4v4.2M477.5 372.4v3.2M479.5 372.4v3.2M481.5 372.4v3.2M483.5 372.4v3.2M493.5 372.4v3.2M373.6 343.5h-4.5M373.6 348.5h-4.5M373.6 302.5h-3.2M373.6 297.5h-3.2M373.6 294.5h-3.2M373.6 291.5h-4.2M373.6 289.5h-3.2M373.6 287.5h-3.2M373.6 285.5h-3.2M373.6 283.5h-3.2M373.6 274.5h-3.2M373.6 269.5h-3.2M373.6 266.5h-3.2M373.6 263.5h-4.2M373.6 261.5h-3.2M373.6 259.5h-3.2M373.6 258.5h-3.2M373.6 256.5h-3.2M373.6 247.5h-3.2" stroke="#111" stroke-width="1" fill="none"/>
<rect x="373.6" y="244.9" width="122.8" height="127.5" fill="none" stroke="#111" stroke-width="1.3"/>
<rect x="394" y="272" width="33.3" height="61.2" fill="none" stroke="#525252" stroke-width="1.1"/>
<text x="441.3" y="286.37" font-size="12.58" font-weight="normal" textLength="26.09" lengthAdjust="spacingAndGlyphs" fill="#111" >3.64</text>
<rect x="404.45" y="325.35" width="2.1" height="2.1" rx="0.4" fill="#2a3f9c"/>
<rect x="408.55" y="326.75" width="2.1" height="2.1" rx="0.4" fill="#2a3f9c"/>
<rect x="403.85" y="329.05" width="2.1" height="2.1" rx="0.4" fill="#2a3f9c"/>
<rect x="415.45" y="328.75" width="2.1" height="2.1" rx="0.4" fill="#2a3f9c"/>
<rect x="408.75" y="331.05" width="2.1" height="2.1" rx="0.4" fill="#2a3f9c"/>
<rect x="405.35" y="332.85" width="2.1" height="2.1" rx="0.4" fill="#2a3f9c"/>
<rect x="410.85" y="333.15" width="2.1" height="2.1" rx="0.4" fill="#2a3f9c"/>
<rect x="413.75" y="331.65" width="2.1" height="2.1" rx="0.4" fill="#2a3f9c"/>
<rect x="408.25" y="334.25" width="2.1" height="2.1" rx="0.4" fill="#2a3f9c"/>
<rect x="413.95" y="335.75" width="2.1" height="2.1" rx="0.4" fill="#2a3f9c"/>
<ellipse cx="410.3" cy="339.6" rx="2.9" ry="2.6" transform="rotate(-20 410.3 339.6)" fill="#3352bb"/>
<ellipse cx="406.6" cy="340.2" rx="2" ry="2.6" transform="rotate(-30 406.6 340.2)" fill="#58a84a"/>
<ellipse cx="404.6" cy="342.8" rx="2.2" ry="2.2" fill="#ee8a24"/>
<ellipse cx="404.2" cy="343.6" rx="1.1" ry="1.1" fill="#dd3a1e"/>
<path d="M80.5 568.7v6M100.5 568.7v6M121.5 568.7v6M154.5 568.7v6M184.5 568.7v6M73.4 560.5h-6M73.4 539.5h-6M73.4 518.5h-6M73.4 483.5h-6M73.4 453.5h-6" stroke="#111" stroke-width="1.3" fill="none"/>
<path d="M98.5 568.7v5.5M102.5 568.7v5.5M73.4 536.5h-5.5M73.4 541.5h-5.5" stroke="#111" stroke-width="1.2" fill="none"/>
<path d="M98.5 568.7v3.2M102.5 568.7v3.2M96.5 568.7v3.2M104.5 568.7v3.2M94.5 568.7v3.2M106.5 568.7v3.2M92.5 568.7v3.2M108.5 568.7v3.2M90.5 568.7v4.2M110.5 568.7v4.2M88.5 568.7v3.2M112.5 568.7v3.2M86.5 568.7v3.2M114.5 568.7v3.2M84.5 568.7v3.2M117.5 568.7v3.2M82.5 568.7v3.2M119.5 568.7v3.2M99.5 568.7v2.2M97.5 568.7v2.2M95.5 568.7v2.2M93.5 568.7v2.2M91.5 568.7v2.2M89.5 568.7v2.2M87.5 568.7v2.2M85.5 568.7v2.2M83.5 568.7v2.2M73.4 541.5h-3.2M73.4 536.5h-3.2M73.4 543.5h-3.2M73.4 534.5h-3.2M73.4 545.5h-3.2M73.4 532.5h-3.2M73.4 547.5h-3.2M73.4 530.5h-3.2M73.4 549.5h-4.2M73.4 528.5h-4.2M73.4 551.5h-3.2M73.4 526.5h-3.2M73.4 553.5h-3.2M73.4 524.5h-3.2M73.4 555.5h-3.2M73.4 522.5h-3.2M73.4 557.5h-3.2M73.4 520.5h-3.2" stroke="#111" stroke-width="1.1" fill="none"/>
<path d="M131.5 568.7v3.2M137.5 568.7v3.2M141.5 568.7v3.2M144.5 568.7v4.2M147.5 568.7v3.2M149.5 568.7v3.2M151.5 568.7v3.2M153.5 568.7v3.2M163.5 568.7v3.2M168.5 568.7v3.2M172.5 568.7v3.2M175.5 568.7v4.2M177.5 568.7v3.2M179.5 568.7v3.2M181.5 568.7v3.2M182.5 568.7v3.2M192.5 568.7v3.2M73.4 507.5h-3.2M73.4 501.5h-3.2M73.4 497.5h-3.2M73.4 494.5h-4.2M73.4 491.5h-3.2M73.4 488.5h-3.2M73.4 486.5h-3.2M73.4 485.5h-3.2M73.4 474.5h-3.2M73.4 469.5h-3.2M73.4 465.5h-3.2M73.4 462.5h-4.2M73.4 459.5h-3.2M73.4 457.5h-3.2M73.4 456.5h-3.2M73.4 454.5h-3.2M73.4 445.5h-3.2" stroke="#111" stroke-width="1" fill="none"/>
<rect x="73.4" y="441.2" width="122.8" height="127.5" fill="none" stroke="#111" stroke-width="1.3"/>
<rect x="86" y="458" width="51.5" height="63" fill="none" stroke="#525252" stroke-width="1.1"/>
<text x="155.28" y="480.38" font-size="12.16" font-weight="normal" textLength="7.22" lengthAdjust="spacingAndGlyphs" fill="#111" >0</text>
<rect x="110.25" y="527.05" width="2.1" height="2.1" rx="0.4" fill="#2a3f9c"/>
<rect x="112.25" y="527.55" width="2.1" height="2.1" rx="0.4" fill="#2a3f9c"/>
<rect x="115.45" y="527.85" width="2.1" height="2.1" rx="0.4" fill="#2a3f9c"/>
<rect x="111.95" y="530.15" width="2.1" height="2.1" rx="0.4" fill="#2a3f9c"/>
<rect x="106.25" y="528.15" width="2.1" height="2.1" rx="0.4" fill="#2a3f9c"/>
<rect x="105.05" y="530.15" width="2.1" height="2.1" rx="0.4" fill="#2a3f9c"/>
<rect x="103.65" y="531.65" width="2.1" height="2.1" rx="0.4" fill="#2a3f9c"/>
<rect x="106.45" y="532.25" width="2.1" height="2.1" rx="0.4" fill="#2a3f9c"/>
<rect x="105.35" y="533.65" width="2.1" height="2.1" rx="0.4" fill="#2a3f9c"/>
<rect x="107.05" y="534.25" width="2.1" height="2.1" rx="0.4" fill="#2a3f9c"/>
<rect x="110.25" y="533.95" width="2.1" height="2.1" rx="0.4" fill="#2a3f9c"/>
<rect x="111.65" y="535.35" width="2.1" height="2.1" rx="0.4" fill="#2a3f9c"/>
<rect x="103.65" y="535.95" width="2.1" height="2.1" rx="0.4" fill="#2a3f9c"/>
<rect x="108.25" y="536.85" width="2.1" height="2.1" rx="0.4" fill="#2a3f9c"/>
<rect x="105.95" y="537.15" width="2.1" height="2.1" rx="0.4" fill="#2a3f9c"/>
<rect x="102.15" y="538.55" width="2.1" height="2.1" rx="0.4" fill="#2a3f9c"/>
<rect x="104.45" y="538.25" width="2.1" height="2.1" rx="0.4" fill="#2a3f9c"/>
<rect x="103.65" y="539.95" width="2.1" height="2.1" rx="0.4" fill="#2a3f9c"/>
<rect x="105.65" y="539.75" width="2.1" height="2.1" rx="0.4" fill="#2a3f9c"/>
<rect x="104.45" y="540.55" width="2.1" height="2.1" rx="0.4" fill="#2a3f9c"/>
<path d="M230.5 568.7v6M250.5 568.7v6M271.5 568.7v6M304.5 568.7v6M334.5 568.7v6M223.4 560.5h-6M223.4 539.5h-6M223.4 518.5h-6M223.4 483.5h-6M223.4 453.5h-6" stroke="#111" stroke-width="1.3" fill="none"/>
<path d="M248.5 568.7v5.5M252.5 568.7v5.5M223.4 536.5h-5.5M223.4 541.5h-5.5" stroke="#111" stroke-width="1.2" fill="none"/>
<path d="M248.5 568.7v3.2M252.5 568.7v3.2M246.5 568.7v3.2M254.5 568.7v3.2M244.5 568.7v3.2M256.5 568.7v3.2M242.5 568.7v3.2M258.5 568.7v3.2M240.5 568.7v4.2M260.5 568.7v4.2M238.5 568.7v3.2M262.5 568.7v3.2M236.5 568.7v3.2M264.5 568.7v3.2M234.5 568.7v3.2M267.5 568.7v3.2M232.5 568.7v3.2M269.5 568.7v3.2M249.5 568.7v2.2M247.5 568.7v2.2M245.5 568.7v2.2M243.5 568.7v2.2M241.5 568.7v2.2M239.5 568.7v2.2M237.5 568.7v2.2M235.5 568.7v2.2M233.5 568.7v2.2M223.4 541.5h-3.2M223.4 536.5h-3.2M223.4 543.5h-3.2M223.4 534.5h-3.2M223.4 545.5h-3.2M223.4 532.5h-3.2M223.4 547.5h-3.2M223.4 530.5h-3.2M223.4 549.5h-4.2M223.4 528.5h-4.2M223.4 551.5h-3.2M223.4 526.5h-3.2M223.4 553.5h-3.2M223.4 524.5h-3.2M223.4 555.5h-3.2M223.4 522.5h-3.2M223.4 557.5h-3.2M223.4 520.5h-3.2" stroke="#111" stroke-width="1.1" fill="none"/>
<path d="M281.5 568.7v3.2M287.5 568.7v3.2M291.5 568.7v3.2M294.5 568.7v4.2M297.5 568.7v3.2M299.5 568.7v3.2M301.5 568.7v3.2M303.5 568.7v3.2M313.5 568.7v3.2M318.5 568.7v3.2M322.5 568.7v3.2M325.5 568.7v4.2M327.5 568.7v3.2M329.5 568.7v3.2M331.5 568.7v3.2M332.5 568.7v3.2M342.5 568.7v3.2M223.4 507.5h-3.2M223.4 501.5h-3.2M223.4 497.5h-3.2M223.4 494.5h-4.2M223.4 491.5h-3.2M223.4 488.5h-3.2M223.4 486.5h-3.2M223.4 485.5h-3.2M223.4 474.5h-3.2M223.4 469.5h-3.2M223.4 465.5h-3.2M223.4 462.5h-4.2M223.4 459.5h-3.2M223.4 457.5h-3.2M223.4 456.5h-3.2M223.4 454.5h-3.2M223.4 445.5h-3.2" stroke="#111" stroke-width="1" fill="none"/>
<rect x="223.4" y="441.2" width="122.8" height="127.5" fill="none" stroke="#111" stroke-width="1.3"/>
<rect x="236.5" y="458" width="51.7" height="63" fill="none" stroke="#525252" stroke-width="1.1"/>
<text x="295.22" y="480.07" font-size="12.86" font-weight="normal" textLength="26.37" lengthAdjust="spacingAndGlyphs" fill="#111" >8.78</text>
<rect x="264.25" y="497.05" width="2.1" height="2.1" rx="0.4" fill="#2a3f9c"/>
<rect x="262.25" y="501.05" width="2.1" height="2.1" rx="0.4" fill="#2a3f9c"/>
<rect x="261.65" y="502.75" width="2.1" height="2.1" rx="0.4" fill="#2a3f9c"/>
<rect x="258.25" y="507.15" width="2.1" height="2.1" rx="0.4" fill="#2a3f9c"/>
<rect x="265.15" y="507.15" width="2.1" height="2.1" rx="0.4" fill="#2a3f9c"/>
<rect x="257.65" y="510.25" width="2.1" height="2.1" rx="0.4" fill="#2a3f9c"/>
<rect x="259.35" y="511.15" width="2.1" height="2.1" rx="0.4" fill="#2a3f9c"/>
<rect x="262.85" y="510.25" width="2.1" height="2.1" rx="0.4" fill="#2a3f9c"/>
<rect x="258.75" y="513.15" width="2.1" height="2.1" rx="0.4" fill="#2a3f9c"/>
<rect x="263.75" y="515.45" width="2.1" height="2.1" rx="0.4" fill="#2a3f9c"/>
<rect x="263.75" y="515.65" width="2.1" height="2.1" rx="0.4" fill="#2a3f9c"/>
<rect x="264.25" y="522.65" width="2.1" height="2.1" rx="0.4" fill="#2a3f9c"/>
<rect x="262.85" y="525.75" width="2.1" height="2.1" rx="0.4" fill="#2a3f9c"/>
<rect x="258.25" y="531.85" width="2.1" height="2.1" rx="0.4" fill="#2a3f9c"/>
<rect x="264.85" y="532.15" width="2.1" height="2.1" rx="0.4" fill="#2a3f9c"/>
<rect x="251.85" y="534.75" width="2.1" height="2.1" rx="0.4" fill="#2a3f9c"/>
<rect x="252.45" y="538.75" width="2.1" height="2.1" rx="0.4" fill="#2a3f9c"/>
<rect x="255.05" y="538.15" width="2.1" height="2.1" rx="0.4" fill="#2a3f9c"/>
<rect x="255.95" y="517.45" width="2.1" height="2.1" rx="0.4" fill="#2a3f9c"/>
<rect x="258.45" y="517.15" width="2.1" height="2.1" rx="0.4" fill="#2a3f9c"/>
<rect x="260.45" y="518.45" width="2.1" height="2.1" rx="0.4" fill="#2a3f9c"/>
<rect x="256.45" y="519.45" width="2.1" height="2.1" rx="0.4" fill="#2a3f9c"/>
<rect x="258.95" y="519.95" width="2.1" height="2.1" rx="0.4" fill="#2a3f9c"/>
<rect x="261.45" y="520.95" width="2.1" height="2.1" rx="0.4" fill="#2a3f9c"/>
<rect x="256.95" y="521.95" width="2.1" height="2.1" rx="0.4" fill="#2a3f9c"/>
<rect x="259.45" y="522.95" width="2.1" height="2.1" rx="0.4" fill="#2a3f9c"/>
<rect x="260.95" y="524.45" width="2.1" height="2.1" rx="0.4" fill="#2a3f9c"/>
<rect x="257.45" y="524.95" width="2.1" height="2.1" rx="0.4" fill="#2a3f9c"/>
<rect x="258.95" y="526.95" width="2.1" height="2.1" rx="0.4" fill="#2a3f9c"/>
<rect x="257.45" y="528.95" width="2.1" height="2.1" rx="0.4" fill="#2a3f9c"/>
<rect x="256.5" y="525.15" width="2" height="2" fill="#2e4aae"/>
<rect x="255.75" y="522.78" width="2" height="2" fill="#2e4aae"/>
<rect x="255.44" y="518.58" width="2" height="2" fill="#2e4aae"/>
<rect x="262.29" y="518.23" width="2" height="2" fill="#2e4aae"/>
<rect x="259.61" y="520.52" width="2" height="2" fill="#2e4aae"/>
<rect x="258.2" y="520.85" width="2" height="2" fill="#2e4aae"/>
<rect x="256.24" y="523.94" width="2" height="2" fill="#2e4aae"/>
<rect x="255.47" y="518.45" width="2" height="2" fill="#2e4aae"/>
<rect x="254.95" y="518.75" width="2" height="2" fill="#2e4aae"/>
<rect x="257.86" y="524.6" width="2" height="2" fill="#2e4aae"/>
<rect x="257.64" y="517.35" width="2" height="2" fill="#2e4aae"/>
<rect x="256.74" y="525.42" width="2" height="2" fill="#2e4aae"/>
<rect x="255.27" y="522.01" width="2" height="2" fill="#2e4aae"/>
<rect x="257.63" y="522.38" width="2" height="2" fill="#2e4aae"/>
<rect x="257.34" y="522.66" width="2" height="2" fill="#2e4aae"/>
<rect x="258.53" y="522.28" width="2" height="2" fill="#2e4aae"/>
<rect x="261.56" y="521.65" width="2" height="2" fill="#2e4aae"/>
<rect x="255.87" y="516.89" width="2" height="2" fill="#2e4aae"/>
<rect x="261.9" y="520.8" width="2" height="2" fill="#2e4aae"/>
<rect x="256.25" y="525" width="2" height="2" fill="#2e4aae"/>
<rect x="259.14" y="523.01" width="2" height="2" fill="#2e4aae"/>
<rect x="261.41" y="518.93" width="2" height="2" fill="#2e4aae"/>
<rect x="257.48" y="524.38" width="2" height="2" fill="#2e4aae"/>
<rect x="255.81" y="523.33" width="2" height="2" fill="#2e4aae"/>
<rect x="255.53" y="522.65" width="2" height="2" fill="#2e4aae"/>
<rect x="260.07" y="525.04" width="2" height="2" fill="#2e4aae"/>
<rect x="261.13" y="520.93" width="2" height="2" fill="#2e4aae"/>
<rect x="256.28" y="517.68" width="2" height="2" fill="#2e4aae"/>
<ellipse cx="255" cy="531" rx="2.6" ry="6.2" transform="rotate(8 255 531)" fill="#58a84a"/>
<ellipse cx="254.9" cy="530" rx="1.8" ry="4.8" transform="rotate(8 254.9 530)" fill="#e4e06e"/>
<ellipse cx="254.7" cy="532.3" rx="1.4" ry="2.8" transform="rotate(8 254.7 532.3)" fill="#ee8a24"/>
<path d="M380.5 568.7v6M400.5 568.7v6M421.5 568.7v6M454.5 568.7v6M484.5 568.7v6M373.6 560.5h-6M373.6 539.5h-6M373.6 518.5h-6M373.6 483.5h-6M373.6 453.5h-6" stroke="#111" stroke-width="1.3" fill="none"/>
<path d="M398.5 568.7v5.5M402.5 568.7v5.5M373.6 536.5h-5.5M373.6 541.5h-5.5" stroke="#111" stroke-width="1.2" fill="none"/>
<path d="M398.5 568.7v3.2M402.5 568.7v3.2M396.5 568.7v3.2M404.5 568.7v3.2M394.5 568.7v3.2M406.5 568.7v3.2M392.5 568.7v3.2M408.5 568.7v3.2M390.5 568.7v4.2M411.5 568.7v4.2M388.5 568.7v3.2M413.5 568.7v3.2M386.5 568.7v3.2M415.5 568.7v3.2M384.5 568.7v3.2M417.5 568.7v3.2M382.5 568.7v3.2M419.5 568.7v3.2M399.5 568.7v2.2M397.5 568.7v2.2M395.5 568.7v2.2M393.5 568.7v2.2M391.5 568.7v2.2M389.5 568.7v2.2M387.5 568.7v2.2M385.5 568.7v2.2M383.5 568.7v2.2M373.6 541.5h-3.2M373.6 536.5h-3.2M373.6 543.5h-3.2M373.6 534.5h-3.2M373.6 545.5h-3.2M373.6 532.5h-3.2M373.6 547.5h-3.2M373.6 530.5h-3.2M373.6 549.5h-4.2M373.6 528.5h-4.2M373.6 551.5h-3.2M373.6 526.5h-3.2M373.6 553.5h-3.2M373.6 524.5h-3.2M373.6 555.5h-3.2M373.6 522.5h-3.2M373.6 557.5h-3.2M373.6 520.5h-3.2" stroke="#111" stroke-width="1.1" fill="none"/>
<path d="M431.5 568.7v3.2M437.5 568.7v3.2M441.5 568.7v3.2M444.5 568.7v4.2M447.5 568.7v3.2M449.5 568.7v3.2M451.5 568.7v3.2M453.5 568.7v3.2M463.5 568.7v3.2M468.5 568.7v3.2M472.5 568.7v3.2M475.5 568.7v4.2M477.5 568.7v3.2M479.5 568.7v3.2M481.5 568.7v3.2M483.5 568.7v3.2M493.5 568.7v3.2M373.6 507.5h-3.2M373.6 501.5h-3.2M373.6 497.5h-3.2M373.6 494.5h-4.2M373.6 491.5h-3.2M373.6 488.5h-3.2M373.6 486.5h-3.2M373.6 485.5h-3.2M373.6 474.5h-3.2M373.6 469.5h-3.2M373.6 465.5h-3.2M373.6 462.5h-4.2M373.6 459.5h-3.2M373.6 457.5h-3.2M373.6 456.5h-3.2M373.6 454.5h-3.2M373.6 445.5h-3.2" stroke="#111" stroke-width="1" fill="none"/>
<rect x="373.6" y="441.2" width="122.8" height="127.5" fill="none" stroke="#111" stroke-width="1.3"/>
<rect x="386.5" y="457.8" width="51.3" height="63" fill="none" stroke="#525252" stroke-width="1.1"/>
<text x="446.98" y="477.88" font-size="12.16" font-weight="normal" textLength="26.41" lengthAdjust="spacingAndGlyphs" fill="#111" >1.06</text>
<rect x="416.05" y="517.85" width="2.1" height="2.1" rx="0.4" fill="#2a3f9c"/>
<rect x="412.85" y="519.55" width="2.1" height="2.1" rx="0.4" fill="#2a3f9c"/>
<rect x="404.75" y="522.45" width="2.1" height="2.1" rx="0.4" fill="#2a3f9c"/>
<rect x="409.65" y="522.45" width="2.1" height="2.1" rx="0.4" fill="#2a3f9c"/>
<rect x="411.35" y="524.25" width="2.1" height="2.1" rx="0.4" fill="#2a3f9c"/>
<rect x="410.25" y="525.35" width="2.1" height="2.1" rx="0.4" fill="#2a3f9c"/>
<rect x="402.15" y="526.75" width="2.1" height="2.1" rx="0.4" fill="#2a3f9c"/>
<rect x="408.55" y="527.65" width="2.1" height="2.1" rx="0.4" fill="#2a3f9c"/>
<rect x="413.45" y="529.65" width="2.1" height="2.1" rx="0.4" fill="#2a3f9c"/>
<rect x="410.55" y="531.15" width="2.1" height="2.1" rx="0.4" fill="#2a3f9c"/>
<rect x="403.85" y="542.05" width="2.1" height="2.1" rx="0.4" fill="#2a3f9c"/>
<rect x="407.95" y="541.85" width="2.1" height="2.1" rx="0.4" fill="#2a3f9c"/>
<rect x="406.45" y="527.95" width="2.1" height="2.1" rx="0.4" fill="#2a3f9c"/>
<rect x="403.12" y="527.61" width="2" height="2" fill="#2a3f9c"/>
<rect x="401.98" y="531.07" width="2" height="2" fill="#2a3f9c"/>
<rect x="401.52" y="528.52" width="2" height="2" fill="#2a3f9c"/>
<rect x="404.64" y="525.57" width="2" height="2" fill="#2a3f9c"/>
<rect x="406.75" y="535.13" width="2" height="2" fill="#3352bb"/>
<rect x="404.39" y="534.15" width="2" height="2" fill="#3352bb"/>
<rect x="407.44" y="534.45" width="2" height="2" fill="#3352bb"/>
<rect x="407.54" y="533.24" width="2" height="2" fill="#3352bb"/>
<rect x="405.29" y="533.05" width="2" height="2" fill="#3352bb"/>
<rect x="406.53" y="536.39" width="2" height="2" fill="#3352bb"/>
<rect x="406.92" y="535.77" width="2" height="2" fill="#3352bb"/>
<rect x="405.96" y="535.66" width="2" height="2" fill="#3352bb"/>
<ellipse cx="404.7" cy="530.7" rx="1.3" ry="2.4" fill="#e4e06e"/>
<ellipse cx="404" cy="537.4" rx="1.7" ry="1.4" fill="#e39a35"/>
<ellipse cx="404.6" cy="540.2" rx="1.8" ry="1.5" fill="#e4e06e"/>
<path d="M80.5 722.5v6M100.5 722.5v6M121.5 722.5v6M154.5 722.5v6M184.5 722.5v6M73.4 696.5h-6M73.4 661.5h-6M73.4 632.5h-6M73.4 605.5h-6" stroke="#111" stroke-width="1.3" fill="none"/>
<path d="M98.5 722.5v5.5M102.5 722.5v5.5M73.4 690.5h-5.5M73.4 701.5h-5.5" stroke="#111" stroke-width="1.2" fill="none"/>
<path d="M98.5 722.5v3.2M102.5 722.5v3.2M96.5 722.5v3.2M104.5 722.5v3.2M94.5 722.5v3.2M106.5 722.5v3.2M92.5 722.5v3.2M108.5 722.5v3.2M90.5 722.5v4.2M110.5 722.5v4.2M88.5 722.5v3.2M112.5 722.5v3.2M86.5 722.5v3.2M114.5 722.5v3.2M84.5 722.5v3.2M117.5 722.5v3.2M82.5 722.5v3.2M119.5 722.5v3.2M99.5 722.5v2.2M97.5 722.5v2.2M95.5 722.5v2.2M93.5 722.5v2.2M91.5 722.5v2.2M89.5 722.5v2.2M87.5 722.5v2.2M85.5 722.5v2.2M83.5 722.5v2.2M73.4 699.5h-3.2M73.4 692.5h-3.2M73.4 702.5h-3.2M73.4 689.5h-3.2M73.4 705.5h-3.2M73.4 685.5h-3.2M73.4 708.5h-3.2M73.4 682.5h-3.2M73.4 711.5h-4.2M73.4 678.5h-4.2M73.4 714.5h-3.2M73.4 675.5h-3.2M73.4 717.5h-3.2M73.4 672.5h-3.2M73.4 720.5h-3.2M73.4 668.5h-3.2M73.4 665.5h-3.2" stroke="#111" stroke-width="1.1" fill="none"/>
<path d="M131.5 722.5v3.2M137.5 722.5v3.2M141.5 722.5v3.2M144.5 722.5v4.2M147.5 722.5v3.2M149.5 722.5v3.2M151.5 722.5v3.2M153.5 722.5v3.2M163.5 722.5v3.2M168.5 722.5v3.2M172.5 722.5v3.2M175.5 722.5v4.2M177.5 722.5v3.2M179.5 722.5v3.2M181.5 722.5v3.2M182.5 722.5v3.2M192.5 722.5v3.2M73.4 693.5h-4.5M73.4 698.5h-4.5M73.4 652.5h-3.2M73.4 647.5h-3.2M73.4 644.5h-3.2M73.4 641.5h-4.2M73.4 639.5h-3.2M73.4 637.5h-3.2M73.4 635.5h-3.2M73.4 634.5h-3.2M73.4 624.5h-3.2M73.4 619.5h-3.2M73.4 616.5h-3.2M73.4 613.5h-4.2M73.4 611.5h-3.2M73.4 609.5h-3.2M73.4 608.5h-3.2M73.4 606.5h-3.2M73.4 597.5h-3.2" stroke="#111" stroke-width="1" fill="none"/>
<rect x="73.4" y="595" width="122.8" height="127.5" fill="none" stroke="#111" stroke-width="1.3"/>
<rect x="93.3" y="622.6" width="33.3" height="60.8" fill="none" stroke="#525252" stroke-width="1.1"/>
<text x="144.29" y="634.38" font-size="12.16" font-weight="normal" textLength="26.27" lengthAdjust="spacingAndGlyphs" fill="#111" >18.5</text>
<rect x="109.95" y="661.15" width="2.1" height="2.1" rx="0.4" fill="#2a3f9c"/>
<rect x="108.15" y="673.65" width="2.1" height="2.1" rx="0.4" fill="#2a3f9c"/>
<rect x="104.15" y="675.75" width="2.1" height="2.1" rx="0.4" fill="#2a3f9c"/>
<rect x="111.95" y="675.15" width="2.1" height="2.1" rx="0.4" fill="#2a3f9c"/>
<rect x="115.45" y="679.65" width="2.1" height="2.1" rx="0.4" fill="#2a3f9c"/>
<rect x="112.75" y="684.85" width="2.1" height="2.1" rx="0.4" fill="#2a3f9c"/>
<rect x="111.15" y="690.35" width="2.1" height="2.1" rx="0.4" fill="#2a3f9c"/>
<rect x="110.55" y="691.15" width="2.1" height="2.1" rx="0.4" fill="#2a3f9c"/>
<rect x="105.95" y="686.85" width="2.1" height="2.1" rx="0.4" fill="#2a3f9c"/>
<rect x="104.15" y="688.55" width="2.1" height="2.1" rx="0.4" fill="#2a3f9c"/>
<rect x="107.05" y="688.85" width="2.1" height="2.1" rx="0.4" fill="#2a3f9c"/>
<rect x="104.45" y="690.35" width="2.1" height="2.1" rx="0.4" fill="#2a3f9c"/>
<rect x="105.95" y="690.85" width="2.1" height="2.1" rx="0.4" fill="#2a3f9c"/>
<rect x="103.65" y="692.05" width="2.1" height="2.1" rx="0.4" fill="#2a3f9c"/>
<rect x="102.15" y="693.75" width="2.1" height="2.1" rx="0.4" fill="#2a3f9c"/>
<rect x="105.05" y="689.45" width="2.1" height="2.1" rx="0.4" fill="#2a3f9c"/>
<path d="M230.5 722.5v6M250.5 722.5v6M271.5 722.5v6M304.5 722.5v6M334.5 722.5v6M223.4 696.5h-6M223.4 661.5h-6M223.4 632.5h-6M223.4 605.5h-6" stroke="#111" stroke-width="1.3" fill="none"/>
<path d="M248.5 722.5v5.5M252.5 722.5v5.5M223.4 690.5h-5.5M223.4 701.5h-5.5" stroke="#111" stroke-width="1.2" fill="none"/>
<path d="M248.5 722.5v3.2M252.5 722.5v3.2M246.5 722.5v3.2M254.5 722.5v3.2M244.5 722.5v3.2M256.5 722.5v3.2M242.5 722.5v3.2M258.5 722.5v3.2M240.5 722.5v4.2M260.5 722.5v4.2M238.5 722.5v3.2M262.5 722.5v3.2M236.5 722.5v3.2M264.5 722.5v3.2M234.5 722.5v3.2M267.5 722.5v3.2M232.5 722.5v3.2M269.5 722.5v3.2M249.5 722.5v2.2M247.5 722.5v2.2M245.5 722.5v2.2M243.5 722.5v2.2M241.5 722.5v2.2M239.5 722.5v2.2M237.5 722.5v2.2M235.5 722.5v2.2M233.5 722.5v2.2M223.4 699.5h-3.2M223.4 692.5h-3.2M223.4 702.5h-3.2M223.4 689.5h-3.2M223.4 705.5h-3.2M223.4 685.5h-3.2M223.4 708.5h-3.2M223.4 682.5h-3.2M223.4 711.5h-4.2M223.4 678.5h-4.2M223.4 714.5h-3.2M223.4 675.5h-3.2M223.4 717.5h-3.2M223.4 672.5h-3.2M223.4 720.5h-3.2M223.4 668.5h-3.2M223.4 665.5h-3.2" stroke="#111" stroke-width="1.1" fill="none"/>
<path d="M281.5 722.5v3.2M287.5 722.5v3.2M291.5 722.5v3.2M294.5 722.5v4.2M297.5 722.5v3.2M299.5 722.5v3.2M301.5 722.5v3.2M303.5 722.5v3.2M313.5 722.5v3.2M318.5 722.5v3.2M322.5 722.5v3.2M325.5 722.5v4.2M327.5 722.5v3.2M329.5 722.5v3.2M331.5 722.5v3.2M332.5 722.5v3.2M342.5 722.5v3.2M223.4 693.5h-4.5M223.4 698.5h-4.5M223.4 652.5h-3.2M223.4 647.5h-3.2M223.4 644.5h-3.2M223.4 641.5h-4.2M223.4 639.5h-3.2M223.4 637.5h-3.2M223.4 635.5h-3.2M223.4 634.5h-3.2M223.4 624.5h-3.2M223.4 619.5h-3.2M223.4 616.5h-3.2M223.4 613.5h-4.2M223.4 611.5h-3.2M223.4 609.5h-3.2M223.4 608.5h-3.2M223.4 606.5h-3.2M223.4 597.5h-3.2" stroke="#111" stroke-width="1" fill="none"/>
<rect x="223.4" y="595" width="122.8" height="127.5" fill="none" stroke="#111" stroke-width="1.3"/>
<rect x="243.5" y="622.6" width="33" height="60.7" fill="none" stroke="#525252" stroke-width="1.1"/>
<text x="295.2" y="632.88" font-size="12.16" font-weight="normal" textLength="25.68" lengthAdjust="spacingAndGlyphs" fill="#111" >43.4</text>
<rect x="260.05" y="637.55" width="2.1" height="2.1" rx="0.4" fill="#2a3f9c"/>
<rect x="261.35" y="639.85" width="2.1" height="2.1" rx="0.4" fill="#2a3f9c"/>
<rect x="255.65" y="644.25" width="2.1" height="2.1" rx="0.4" fill="#2a3f9c"/>
<rect x="256.45" y="647.95" width="2.1" height="2.1" rx="0.4" fill="#2a3f9c"/>
<rect x="258.45" y="647.75" width="2.1" height="2.1" rx="0.4" fill="#2a3f9c"/>
<rect x="259.45" y="649.45" width="2.1" height="2.1" rx="0.4" fill="#2a3f9c"/>
<rect x="256.15" y="650.45" width="2.1" height="2.1" rx="0.4" fill="#2a3f9c"/>
<rect x="258.75" y="651.45" width="2.1" height="2.1" rx="0.4" fill="#2a3f9c"/>
<rect x="254.45" y="651.75" width="2.1" height="2.1" rx="0.4" fill="#2a3f9c"/>
<rect x="258.25" y="655.15" width="2.1" height="2.1" rx="0.4" fill="#2a3f9c"/>
<rect x="262.25" y="656.65" width="2.1" height="2.1" rx="0.4" fill="#2a3f9c"/>
<rect x="264.25" y="655.75" width="2.1" height="2.1" rx="0.4" fill="#2a3f9c"/>
<rect x="264.85" y="659.25" width="2.1" height="2.1" rx="0.4" fill="#2a3f9c"/>
<rect x="253.45" y="655.95" width="2.1" height="2.1" rx="0.4" fill="#2a3f9c"/>
<rect x="255.45" y="656.95" width="2.1" height="2.1" rx="0.4" fill="#2a3f9c"/>
<rect x="257.15" y="656.15" width="2.1" height="2.1" rx="0.4" fill="#2a3f9c"/>
<rect x="253.15" y="658.45" width="2.1" height="2.1" rx="0.4" fill="#2a3f9c"/>
<rect x="255.75" y="659.45" width="2.1" height="2.1" rx="0.4" fill="#2a3f9c"/>
<rect x="253.95" y="661.45" width="2.1" height="2.1" rx="0.4" fill="#2a3f9c"/>
<rect x="256.45" y="662.45" width="2.1" height="2.1" rx="0.4" fill="#2a3f9c"/>
<rect x="253.45" y="663.75" width="2.1" height="2.1" rx="0.4" fill="#2a3f9c"/>
<rect x="256.95" y="664.45" width="2.1" height="2.1" rx="0.4" fill="#2a3f9c"/>
<rect x="260.25" y="664.95" width="2.1" height="2.1" rx="0.4" fill="#2a3f9c"/>
<rect x="262.85" y="668.75" width="2.1" height="2.1" rx="0.4" fill="#2a3f9c"/>
<rect x="262.85" y="675.65" width="2.1" height="2.1" rx="0.4" fill="#2a3f9c"/>
<rect x="264.85" y="677.65" width="2.1" height="2.1" rx="0.4" fill="#2a3f9c"/>
<rect x="259.95" y="678.25" width="2.1" height="2.1" rx="0.4" fill="#2a3f9c"/>
<rect x="260.85" y="681.15" width="2.1" height="2.1" rx="0.4" fill="#2a3f9c"/>
<rect x="263.75" y="681.75" width="2.1" height="2.1" rx="0.4" fill="#2a3f9c"/>
<rect x="261.65" y="690.95" width="2.1" height="2.1" rx="0.4" fill="#2a3f9c"/>
<rect x="263.45" y="690.05" width="2.1" height="2.1" rx="0.4" fill="#2a3f9c"/>
<rect x="258.15" y="682.95" width="2.1" height="2.1" rx="0.4" fill="#2a3f9c"/>
<rect x="259.15" y="685.45" width="2.1" height="2.1" rx="0.4" fill="#2a3f9c"/>
<rect x="258.15" y="687.95" width="2.1" height="2.1" rx="0.4" fill="#2a3f9c"/>
<rect x="259.25" y="690.45" width="2.1" height="2.1" rx="0.4" fill="#2a3f9c"/>
<rect x="254.25" y="675.83" width="2" height="2" fill="#2e4aae"/>
<rect x="256.71" y="673.34" width="2" height="2" fill="#2e4aae"/>
<rect x="254.54" y="676.57" width="2" height="2" fill="#2e4aae"/>
<rect x="252.86" y="674.57" width="2" height="2" fill="#2e4aae"/>
<rect x="255.18" y="682.01" width="2" height="2" fill="#2e4aae"/>
<rect x="252.39" y="669.04" width="2" height="2" fill="#2e4aae"/>
<rect x="252.37" y="682.46" width="2" height="2" fill="#2e4aae"/>
<rect x="255.51" y="662.11" width="2" height="2" fill="#2e4aae"/>
<rect x="257.01" y="686.57" width="2" height="2" fill="#2e4aae"/>
<rect x="255.3" y="677.31" width="2" height="2" fill="#2e4aae"/>
<rect x="252.72" y="661.4" width="2" height="2" fill="#2e4aae"/>
<rect x="254.65" y="662.58" width="2" height="2" fill="#2e4aae"/>
<rect x="252.89" y="667.41" width="2" height="2" fill="#2e4aae"/>
<rect x="252.06" y="673.29" width="2" height="2" fill="#2e4aae"/>
<rect x="254.19" y="683.32" width="2" height="2" fill="#2e4aae"/>
<rect x="254.6" y="677.97" width="2" height="2" fill="#2e4aae"/>
<rect x="254.5" y="678.55" width="2" height="2" fill="#2e4aae"/>
<rect x="254.28" y="668.37" width="2" height="2" fill="#2e4aae"/>
<rect x="257.09" y="687.39" width="2" height="2" fill="#2e4aae"/>
<rect x="256.27" y="679.76" width="2" height="2" fill="#2e4aae"/>
<rect x="253.54" y="667.09" width="2" height="2" fill="#2e4aae"/>
<rect x="253.4" y="662.86" width="2" height="2" fill="#2e4aae"/>
<rect x="255.88" y="671.61" width="2" height="2" fill="#2e4aae"/>
<rect x="256.3" y="671.24" width="2" height="2" fill="#2e4aae"/>
<rect x="256.88" y="683.45" width="2" height="2" fill="#2e4aae"/>
<rect x="251.9" y="666.56" width="2" height="2" fill="#2e4aae"/>
<rect x="256.63" y="673.45" width="2" height="2" fill="#2e4aae"/>
<rect x="257" y="671.53" width="2" height="2" fill="#2e4aae"/>
<rect x="252.28" y="677.68" width="2" height="2" fill="#2e4aae"/>
<rect x="255.95" y="668.15" width="2" height="2" fill="#2e4aae"/>
<rect x="252.35" y="669.81" width="2" height="2" fill="#2e4aae"/>
<rect x="256.91" y="681.09" width="2" height="2" fill="#2e4aae"/>
<rect x="252.51" y="667.53" width="2" height="2" fill="#2e4aae"/>
<rect x="252.43" y="662.59" width="2" height="2" fill="#2e4aae"/>
<rect x="256.04" y="665.71" width="2" height="2" fill="#2e4aae"/>
<rect x="254.81" y="672.86" width="2" height="2" fill="#2e4aae"/>
<rect x="252.89" y="680.4" width="2" height="2" fill="#2e4aae"/>
<rect x="252.58" y="678.06" width="2" height="2" fill="#2e4aae"/>
<rect x="252.51" y="672.15" width="2" height="2" fill="#2e4aae"/>
<rect x="253.01" y="668.15" width="2" height="2" fill="#2e4aae"/>
<rect x="256.95" y="682.29" width="2" height="2" fill="#2e4aae"/>
<rect x="253.48" y="684.45" width="2" height="2" fill="#2e4aae"/>
<rect x="253" y="671.45" width="2" height="2" fill="#2e4aae"/>
<rect x="256.34" y="678.01" width="2" height="2" fill="#2e4aae"/>
<rect x="252.42" y="687.22" width="2" height="2" fill="#2e4aae"/>
<rect x="253.01" y="667.84" width="2" height="2" fill="#2e4aae"/>
<rect x="255.92" y="669.72" width="2" height="2" fill="#2e4aae"/>
<rect x="253.44" y="662.95" width="2" height="2" fill="#2e4aae"/>
<rect x="252.37" y="676.44" width="2" height="2" fill="#2e4aae"/>
<rect x="253.16" y="676.93" width="2" height="2" fill="#2e4aae"/>
<rect x="253.83" y="673.01" width="2" height="2" fill="#2e4aae"/>
<rect x="256.89" y="673.82" width="2" height="2" fill="#2e4aae"/>
<rect x="254.89" y="683.96" width="2" height="2" fill="#2e4aae"/>
<rect x="252.85" y="665.08" width="2" height="2" fill="#2e4aae"/>
<rect x="256.62" y="682.67" width="2" height="2" fill="#2e4aae"/>
<rect x="253.2" y="666.03" width="2" height="2" fill="#2e4aae"/>
<rect x="255.75" y="685.92" width="2" height="2" fill="#2e4aae"/>
<rect x="252.92" y="686.18" width="2" height="2" fill="#2e4aae"/>
<rect x="256.49" y="676.99" width="2" height="2" fill="#2e4aae"/>
<rect x="254.09" y="663.75" width="2" height="2" fill="#2e4aae"/>
<rect x="252.1" y="686.51" width="2" height="2" fill="#2e4aae"/>
<rect x="253.14" y="679.67" width="2" height="2" fill="#2e4aae"/>
<rect x="253.24" y="682.83" width="2" height="2" fill="#2e4aae"/>
<rect x="255" y="668.78" width="2" height="2" fill="#2e4aae"/>
<rect x="252.81" y="680.09" width="2" height="2" fill="#2e4aae"/>
<rect x="252.26" y="667.05" width="2" height="2" fill="#2e4aae"/>
<rect x="254.81" y="683.59" width="2" height="2" fill="#2e4aae"/>
<rect x="255.09" y="668.43" width="2" height="2" fill="#2e4aae"/>
<rect x="256.67" y="666.41" width="2" height="2" fill="#2e4aae"/>
<rect x="251.99" y="668.13" width="2" height="2" fill="#2e4aae"/>
<rect x="254.22" y="662.6" width="2" height="2" fill="#2e4aae"/>
<rect x="252.82" y="670.77" width="2" height="2" fill="#2e4aae"/>
<rect x="254.88" y="664.49" width="2" height="2" fill="#2e4aae"/>
<rect x="253.78" y="684.61" width="2" height="2" fill="#2e4aae"/>
<rect x="257" y="678.41" width="2" height="2" fill="#2e4aae"/>
<rect x="255.49" y="676.49" width="2" height="2" fill="#2e4aae"/>
<rect x="252.63" y="661.93" width="2" height="2" fill="#2e4aae"/>
<rect x="251.99" y="685.12" width="2" height="2" fill="#2e4aae"/>
<rect x="255.55" y="686.51" width="2" height="2" fill="#2e4aae"/>
<rect x="252.01" y="677.86" width="2" height="2" fill="#2e4aae"/>
<rect x="254.41" y="680.36" width="2" height="2" fill="#2e4aae"/>
<rect x="253.56" y="687.48" width="2" height="2" fill="#2e4aae"/>
<rect x="252.29" y="675.47" width="2" height="2" fill="#2e4aae"/>
<rect x="255.73" y="684.86" width="2" height="2" fill="#2e4aae"/>
<rect x="255.73" y="679.65" width="2" height="2" fill="#2e4aae"/>
<rect x="256.02" y="685.25" width="2" height="2" fill="#2e4aae"/>
<rect x="253.73" y="679.16" width="2" height="2" fill="#2e4aae"/>
<rect x="256.58" y="684.08" width="2" height="2" fill="#2e4aae"/>
<rect x="254.07" y="681.95" width="2" height="2" fill="#2e4aae"/>
<rect x="256.39" y="676.18" width="2" height="2" fill="#2e4aae"/>
<ellipse cx="254.2" cy="692.4" rx="2.5" ry="3.4" fill="#ee8a24"/>
<ellipse cx="254.2" cy="692.6" rx="1.8" ry="2.6" fill="#dd3a1e"/>
<ellipse cx="254.7" cy="689" rx="1.2" ry="0.9" fill="#e4e06e"/>
<path d="M380.5 722.5v6M400.5 722.5v6M421.5 722.5v6M454.5 722.5v6M484.5 722.5v6M373.6 696.5h-6M373.6 661.5h-6M373.6 632.5h-6M373.6 605.5h-6" stroke="#111" stroke-width="1.3" fill="none"/>
<path d="M398.5 722.5v5.5M402.5 722.5v5.5M373.6 690.5h-5.5M373.6 701.5h-5.5" stroke="#111" stroke-width="1.2" fill="none"/>
<path d="M398.5 722.5v3.2M402.5 722.5v3.2M396.5 722.5v3.2M404.5 722.5v3.2M394.5 722.5v3.2M406.5 722.5v3.2M392.5 722.5v3.2M408.5 722.5v3.2M390.5 722.5v4.2M411.5 722.5v4.2M388.5 722.5v3.2M413.5 722.5v3.2M386.5 722.5v3.2M415.5 722.5v3.2M384.5 722.5v3.2M417.5 722.5v3.2M382.5 722.5v3.2M419.5 722.5v3.2M399.5 722.5v2.2M397.5 722.5v2.2M395.5 722.5v2.2M393.5 722.5v2.2M391.5 722.5v2.2M389.5 722.5v2.2M387.5 722.5v2.2M385.5 722.5v2.2M383.5 722.5v2.2M373.6 699.5h-3.2M373.6 692.5h-3.2M373.6 702.5h-3.2M373.6 689.5h-3.2M373.6 705.5h-3.2M373.6 685.5h-3.2M373.6 708.5h-3.2M373.6 682.5h-3.2M373.6 711.5h-4.2M373.6 678.5h-4.2M373.6 714.5h-3.2M373.6 675.5h-3.2M373.6 717.5h-3.2M373.6 672.5h-3.2M373.6 720.5h-3.2M373.6 668.5h-3.2M373.6 665.5h-3.2" stroke="#111" stroke-width="1.1" fill="none"/>
<path d="M431.5 722.5v3.2M437.5 722.5v3.2M441.5 722.5v3.2M444.5 722.5v4.2M447.5 722.5v3.2M449.5 722.5v3.2M451.5 722.5v3.2M453.5 722.5v3.2M463.5 722.5v3.2M468.5 722.5v3.2M472.5 722.5v3.2M475.5 722.5v4.2M477.5 722.5v3.2M479.5 722.5v3.2M481.5 722.5v3.2M483.5 722.5v3.2M493.5 722.5v3.2M373.6 693.5h-4.5M373.6 698.5h-4.5M373.6 652.5h-3.2M373.6 647.5h-3.2M373.6 644.5h-3.2M373.6 641.5h-4.2M373.6 639.5h-3.2M373.6 637.5h-3.2M373.6 635.5h-3.2M373.6 634.5h-3.2M373.6 624.5h-3.2M373.6 619.5h-3.2M373.6 616.5h-3.2M373.6 613.5h-4.2M373.6 611.5h-3.2M373.6 609.5h-3.2M373.6 608.5h-3.2M373.6 606.5h-3.2M373.6 597.5h-3.2" stroke="#111" stroke-width="1" fill="none"/>
<rect x="373.6" y="595" width="122.8" height="127.5" fill="none" stroke="#111" stroke-width="1.3"/>
<rect x="393.8" y="622.6" width="33.5" height="60.7" fill="none" stroke="#525252" stroke-width="1.1"/>
<text x="444.45" y="632.58" font-size="12.16" font-weight="normal" textLength="26.55" lengthAdjust="spacingAndGlyphs" fill="#111" >5.32</text>
<rect x="406.75" y="661.55" width="2.1" height="2.1" rx="0.4" fill="#2a3f9c"/>
<rect x="410.85" y="676.55" width="2.1" height="2.1" rx="0.4" fill="#2a3f9c"/>
<rect x="413.75" y="679.45" width="2.1" height="2.1" rx="0.4" fill="#2a3f9c"/>
<rect x="403.65" y="681.75" width="2.1" height="2.1" rx="0.4" fill="#2a3f9c"/>
<rect x="405.05" y="681.45" width="2.1" height="2.1" rx="0.4" fill="#2a3f9c"/>
<rect x="407.95" y="681.25" width="2.1" height="2.1" rx="0.4" fill="#2a3f9c"/>
<rect x="403.35" y="683.85" width="2.1" height="2.1" rx="0.4" fill="#2a3f9c"/>
<rect x="410.55" y="684.05" width="2.1" height="2.1" rx="0.4" fill="#2a3f9c"/>
<rect x="405.35" y="686.35" width="2.1" height="2.1" rx="0.4" fill="#2a3f9c"/>
<rect x="408.25" y="686.65" width="2.1" height="2.1" rx="0.4" fill="#2a3f9c"/>
<rect x="413.45" y="689.25" width="2.1" height="2.1" rx="0.4" fill="#2a3f9c"/>
<rect x="416.05" y="690.75" width="2.1" height="2.1" rx="0.4" fill="#2a3f9c"/>
<rect x="407.95" y="692.45" width="2.1" height="2.1" rx="0.4" fill="#2a3f9c"/>
<ellipse cx="412.7" cy="688.9" rx="0.9" ry="0.9" fill="#2a7f86"/>
<ellipse cx="409.5" cy="691.2" rx="2" ry="2.3" fill="#3352bb"/>
<ellipse cx="404.1" cy="693.2" rx="1.8" ry="3.2" fill="#58a84a"/>
<ellipse cx="404.6" cy="692.6" rx="0.9" ry="2" fill="#dd3a1e"/>
<line x1="83" y1="819.5" x2="83" y2="1029.8" stroke="#111" stroke-width="2"/>
<line x1="76.7" y1="1028.8" x2="252.9" y2="1028.8" stroke="#111" stroke-width="2"/>
<line x1="76.7" y1="961" x2="83" y2="961" stroke="#111" stroke-width="1.8"/>
<line x1="76.7" y1="893.2" x2="83" y2="893.2" stroke="#111" stroke-width="1.8"/>
<line x1="76.7" y1="825.4" x2="83" y2="825.4" stroke="#111" stroke-width="1.8"/>
<text x="62.26" y="1032.96" font-size="12.1" textLength="7.67" lengthAdjust="spacingAndGlyphs" fill="#111">0</text>
<text x="62.3" y="965.16" font-size="12.1" textLength="7.67" lengthAdjust="spacingAndGlyphs" fill="#111">5</text>
<text x="54.61" y="897.36" font-size="12.1" textLength="15.34" lengthAdjust="spacingAndGlyphs" fill="#111">10</text>
<text x="54.64" y="829.56" font-size="12.1" textLength="15.34" lengthAdjust="spacingAndGlyphs" fill="#111">15</text>
<line x1="101" y1="1028.8" x2="101" y2="1034.8" stroke="#111" stroke-width="1.8"/>
<line x1="127.5" y1="1028.8" x2="127.5" y2="1034.8" stroke="#111" stroke-width="1.8"/>
<line x1="154" y1="1028.8" x2="154" y2="1034.8" stroke="#111" stroke-width="1.8"/>
<line x1="180.6" y1="1028.8" x2="180.6" y2="1034.8" stroke="#111" stroke-width="1.8"/>
<line x1="207.2" y1="1028.8" x2="207.2" y2="1034.8" stroke="#111" stroke-width="1.8"/>
<line x1="233.7" y1="1028.8" x2="233.7" y2="1034.8" stroke="#111" stroke-width="1.8"/>
<path d="M180.6 977 V812.3 H202.7 V824.4" stroke="#333" stroke-width="1.25" fill="none"/>
<path d="M211.4 824.4 V812.3 H233.7 V984.8" stroke="#333" stroke-width="1.25" fill="none"/>
<text x="189.61" y="811.85" font-size="12" textLength="4.17" lengthAdjust="spacingAndGlyphs" fill="#222" stroke="#222" stroke-width="0.3">*</text>
<text x="220.51" y="811.85" font-size="12" textLength="4.28" lengthAdjust="spacingAndGlyphs" fill="#222" stroke="#222" stroke-width="0.3">*</text>
<line x1="92.3" y1="976.6" x2="109.7" y2="976.6" stroke="#111" stroke-width="2"/>
<line x1="118.5" y1="985" x2="136" y2="985" stroke="#111" stroke-width="2"/>
<line x1="145.3" y1="1004.1" x2="160" y2="1004.1" stroke="#111" stroke-width="2"/>
<line x1="198.4" y1="909.6" x2="215.8" y2="909.6" stroke="#111" stroke-width="2"/>
<line x1="225" y1="1014.4" x2="242.8" y2="1014.4" stroke="#111" stroke-width="2"/>
<circle cx="101" cy="952.9" r="3.65" fill="#f8920c" stroke="#d6831a" stroke-width="0.9"/>
<circle cx="101" cy="976.6" r="3.65" fill="#f8920c" stroke="#d6831a" stroke-width="0.9"/>
<circle cx="101" cy="991.7" r="3.65" fill="#f8920c" stroke="#d6831a" stroke-width="0.9"/>
<circle cx="127.4" cy="883.9" r="3.65" fill="#f8920c" stroke="#d6831a" stroke-width="0.9"/>
<circle cx="127.4" cy="985" r="3.65" fill="#f8920c" stroke="#d6831a" stroke-width="0.9"/>
<circle cx="127.4" cy="1011.5" r="3.65" fill="#f8920c" stroke="#d6831a" stroke-width="0.9"/>
<circle cx="148.9" cy="999.9" r="3.65" fill="#f8920c" stroke="#d6831a" stroke-width="0.9"/>
<circle cx="148.9" cy="1010.9" r="3.65" fill="#f8920c" stroke="#d6831a" stroke-width="0.9"/>
<circle cx="159" cy="1004.1" r="3.65" fill="#f8920c" stroke="#d6831a" stroke-width="0.9"/>
<circle cx="180.6" cy="989.3" r="3.65" fill="#f8920c" stroke="#d6831a" stroke-width="0.9"/>
<circle cx="176" cy="1028.9" r="3.65" fill="#f8920c" stroke="#d6831a" stroke-width="0.9"/>
<circle cx="185.5" cy="1028.9" r="3.65" fill="#f8920c" stroke="#d6831a" stroke-width="0.9"/>
<circle cx="207.1" cy="836.4" r="3.65" fill="#f8920c" stroke="#d6831a" stroke-width="0.9"/>
<circle cx="207.1" cy="909.6" r="3.65" fill="#f8920c" stroke="#d6831a" stroke-width="0.9"/>
<circle cx="207.3" cy="965" r="3.65" fill="#f8920c" stroke="#d6831a" stroke-width="0.9"/>
<circle cx="233.7" cy="996.7" r="3.65" fill="#f8920c" stroke="#d6831a" stroke-width="0.9"/>
<circle cx="233.7" cy="1014.4" r="3.65" fill="#f8920c" stroke="#d6831a" stroke-width="0.9"/>
<circle cx="233.7" cy="1028.9" r="3.65" fill="#f8920c" stroke="#d6831a" stroke-width="0.9"/>
<text x="123.09" y="784.63" font-size="16.82" font-weight="normal" textLength="36.32" lengthAdjust="spacingAndGlyphs" fill="#111" >CD4</text>
<text x="160.26" y="779.12" font-size="15.1" font-weight="normal" textLength="8.67" lengthAdjust="spacingAndGlyphs" fill="#111" >+</text>
<text x="168.37" y="784.6" font-size="17.6" font-weight="normal" textLength="28.4" lengthAdjust="spacingAndGlyphs" fill="#111" >IFN</text>
<text x="203.91" y="779.12" font-size="15.1" font-weight="normal" textLength="9.27" lengthAdjust="spacingAndGlyphs" fill="#111" >+</text>
<g transform="translate(43.8,929) rotate(-90)"><text x="-0.42" y="-0.09" font-size="18" textLength="10.77" lengthAdjust="spacingAndGlyphs" fill="#111" stroke="#111" stroke-width="0.35">%</text></g>
<text transform="translate(106.2,1048.8) rotate(-45)" x="-80.53" y="0" font-size="13" textLength="81.22" lengthAdjust="spacingAndGlyphs" fill="#111">NC-MK+OT-2</text>
<text transform="translate(132.7,1048.8) rotate(-45)" x="-127.39" y="0" font-size="13" textLength="128.09" lengthAdjust="spacingAndGlyphs" fill="#111">NC-MK+OT-2+OVA-2</text>
<text transform="translate(159.2,1048.8) rotate(-45)" x="-151.66" y="0" font-size="13" textLength="152.22" lengthAdjust="spacingAndGlyphs" fill="#111">NC-MK+OT-2+OVA-2+Ab</text>
<text transform="translate(185.8,1048.8) rotate(-45)" x="-89.45" y="0" font-size="13" textLength="90.12" lengthAdjust="spacingAndGlyphs" fill="#111">BMF-MK+OT-2</text>
<text transform="translate(212.4,1048.8) rotate(-45)" x="-136.3" y="0" font-size="13" textLength="136.99" lengthAdjust="spacingAndGlyphs" fill="#111">BMF-MK+OT-2+OVA-2</text>
<text transform="translate(238.9,1048.8) rotate(-45)" x="-160.57" y="0" font-size="13" textLength="161.11" lengthAdjust="spacingAndGlyphs" fill="#111">BMF-MK+OT-2+OVA-2+Ab</text>
<text x="197.13" y="784.91" font-size="16.8" textLength="6.63" lengthAdjust="spacingAndGlyphs" fill="#111">γ</text>
<line x1="326.4" y1="819.5" x2="326.4" y2="1030" stroke="#111" stroke-width="2"/>
<line x1="320.1" y1="1029" x2="496.2" y2="1029" stroke="#111" stroke-width="2"/>
<line x1="320.1" y1="988.25" x2="326.4" y2="988.25" stroke="#111" stroke-width="1.8"/>
<line x1="320.1" y1="947.5" x2="326.4" y2="947.5" stroke="#111" stroke-width="1.8"/>
<line x1="320.1" y1="906.75" x2="326.4" y2="906.75" stroke="#111" stroke-width="1.8"/>
<line x1="320.1" y1="866" x2="326.4" y2="866" stroke="#111" stroke-width="1.8"/>
<line x1="320.1" y1="825.25" x2="326.4" y2="825.25" stroke="#111" stroke-width="1.8"/>
<text x="306.06" y="1033.16" font-size="12.1" textLength="7.67" lengthAdjust="spacingAndGlyphs" fill="#111">0</text>
<text x="298.41" y="992.41" font-size="12.1" textLength="15.34" lengthAdjust="spacingAndGlyphs" fill="#111">10</text>
<text x="298.41" y="951.66" font-size="12.1" textLength="15.34" lengthAdjust="spacingAndGlyphs" fill="#111">20</text>
<text x="298.41" y="910.91" font-size="12.1" textLength="15.34" lengthAdjust="spacingAndGlyphs" fill="#111">30</text>
<text x="298.41" y="870.16" font-size="12.1" textLength="15.34" lengthAdjust="spacingAndGlyphs" fill="#111">40</text>
<text x="298.41" y="829.41" font-size="12.1" textLength="15.34" lengthAdjust="spacingAndGlyphs" fill="#111">50</text>
<line x1="343.8" y1="1029" x2="343.8" y2="1035" stroke="#111" stroke-width="1.8"/>
<line x1="370.6" y1="1029" x2="370.6" y2="1035" stroke="#111" stroke-width="1.8"/>
<line x1="397" y1="1029" x2="397" y2="1035" stroke="#111" stroke-width="1.8"/>
<line x1="423.8" y1="1029" x2="423.8" y2="1035" stroke="#111" stroke-width="1.8"/>
<line x1="450.4" y1="1029" x2="450.4" y2="1035" stroke="#111" stroke-width="1.8"/>
<line x1="477" y1="1029" x2="477" y2="1035" stroke="#111" stroke-width="1.8"/>
<path d="M343.8 1002.8 V821.7 H369.9 V868" stroke="#333" stroke-width="1.25" fill="none"/>
<path d="M369.9 807.2 V800.9 H397.1 V991.2" stroke="#333" stroke-width="1.25" fill="none"/>
<path d="M423.8 941 V801.1 H450.4 V807" stroke="#333" stroke-width="1.25" fill="none"/>
<path d="M450.4 830 V821.8 H477 V991" stroke="#333" stroke-width="1.25" fill="none"/>
<text x="347.18" y="823.85" font-size="12" textLength="19.22" lengthAdjust="spacingAndGlyphs" fill="#222" stroke="#222" stroke-width="0.3">****</text>
<text x="374.09" y="802.65" font-size="12" textLength="18.92" lengthAdjust="spacingAndGlyphs" fill="#222" stroke="#222" stroke-width="0.3">****</text>
<text x="427.69" y="803.15" font-size="12" textLength="19.02" lengthAdjust="spacingAndGlyphs" fill="#222" stroke="#222" stroke-width="0.3">****</text>
<text x="453.98" y="823.85" font-size="12" textLength="19.22" lengthAdjust="spacingAndGlyphs" fill="#222" stroke="#222" stroke-width="0.3">****</text>
<line x1="335" y1="1016.2" x2="352.3" y2="1016.2" stroke="#111" stroke-width="2"/>
<line x1="361.8" y1="883.3" x2="375" y2="883.3" stroke="#111" stroke-width="2"/>
<line x1="388" y1="1009.2" x2="398.5" y2="1009.2" stroke="#111" stroke-width="2"/>
<line x1="415.4" y1="957.7" x2="425" y2="957.7" stroke="#111" stroke-width="2"/>
<line x1="441.3" y1="852.7" x2="459.6" y2="852.7" stroke="#111" stroke-width="2"/>
<line x1="468.3" y1="1007.3" x2="481.7" y2="1007.3" stroke="#111" stroke-width="2"/>
<circle cx="338.5" cy="1019.6" r="3.65" fill="#f8920c" stroke="#d6831a" stroke-width="0.9"/>
<circle cx="344.2" cy="1015" r="3.65" fill="#f8920c" stroke="#d6831a" stroke-width="0.9"/>
<circle cx="349.5" cy="1016.2" r="3.65" fill="#f8920c" stroke="#d6831a" stroke-width="0.9"/>
<circle cx="365.2" cy="880.7" r="3.65" fill="#f8920c" stroke="#d6831a" stroke-width="0.9"/>
<circle cx="375.4" cy="883.3" r="3.65" fill="#f8920c" stroke="#d6831a" stroke-width="0.9"/>
<circle cx="369.9" cy="901.4" r="3.65" fill="#f8920c" stroke="#d6831a" stroke-width="0.9"/>
<circle cx="391.5" cy="1002.8" r="3.65" fill="#f8920c" stroke="#d6831a" stroke-width="0.9"/>
<circle cx="391.5" cy="1014.3" r="3.65" fill="#f8920c" stroke="#d6831a" stroke-width="0.9"/>
<circle cx="402" cy="1009.7" r="3.65" fill="#f8920c" stroke="#d6831a" stroke-width="0.9"/>
<circle cx="418.8" cy="953.5" r="3.65" fill="#f8920c" stroke="#d6831a" stroke-width="0.9"/>
<circle cx="428.5" cy="957.9" r="3.65" fill="#f8920c" stroke="#d6831a" stroke-width="0.9"/>
<circle cx="423.7" cy="1029" r="3.65" fill="#f8920c" stroke="#d6831a" stroke-width="0.9"/>
<circle cx="450" cy="840.6" r="3.65" fill="#f8920c" stroke="#d6831a" stroke-width="0.9"/>
<circle cx="450" cy="852.7" r="3.65" fill="#f8920c" stroke="#d6831a" stroke-width="0.9"/>
<circle cx="450" cy="873.7" r="3.65" fill="#f8920c" stroke="#d6831a" stroke-width="0.9"/>
<circle cx="472.1" cy="1002.1" r="3.65" fill="#f8920c" stroke="#d6831a" stroke-width="0.9"/>
<circle cx="481.7" cy="1007.3" r="3.65" fill="#f8920c" stroke="#d6831a" stroke-width="0.9"/>
<circle cx="476.9" cy="1017.3" r="3.65" fill="#f8920c" stroke="#d6831a" stroke-width="0.9"/>
<text x="359.99" y="784.44" font-size="15.83" font-weight="normal" textLength="36.32" lengthAdjust="spacingAndGlyphs" fill="#111" >CD4</text>
<text x="397.16" y="779.1" font-size="14.9" font-weight="normal" textLength="8.67" lengthAdjust="spacingAndGlyphs" fill="#111" >+</text>
<text x="405.91" y="784.64" font-size="16.11" font-weight="normal" textLength="45.43" lengthAdjust="spacingAndGlyphs" fill="#111" >CD25</text>
<text x="453.22" y="779.12" font-size="15.1" font-weight="normal" textLength="9.15" lengthAdjust="spacingAndGlyphs" fill="#111" >+</text>
<g transform="translate(286.9,929.2) rotate(-90)"><text x="-0.44" y="-0.09" font-size="18.14" textLength="11.09" lengthAdjust="spacingAndGlyphs" fill="#111" stroke="#111" stroke-width="0.35">%</text></g>
<text transform="translate(349,1048.8) rotate(-45)" x="-80.53" y="0" font-size="13" textLength="81.22" lengthAdjust="spacingAndGlyphs" fill="#111">NC-MK+OT-2</text>
<text transform="translate(375.8,1048.8) rotate(-45)" x="-127.39" y="0" font-size="13" textLength="128.09" lengthAdjust="spacingAndGlyphs" fill="#111">NC-MK+OT-2+OVA-2</text>
<text transform="translate(402.2,1048.8) rotate(-45)" x="-151.66" y="0" font-size="13" textLength="152.22" lengthAdjust="spacingAndGlyphs" fill="#111">NC-MK+OT-2+OVA-2+Ab</text>
<text transform="translate(429,1048.8) rotate(-45)" x="-89.45" y="0" font-size="13" textLength="90.12" lengthAdjust="spacingAndGlyphs" fill="#111">BMF-MK+OT-2</text>
<text transform="translate(455.6,1048.8) rotate(-45)" x="-136.3" y="0" font-size="13" textLength="136.99" lengthAdjust="spacingAndGlyphs" fill="#111">BMF-MK+OT-2+OVA-2</text>
<text transform="translate(482.2,1048.8) rotate(-45)" x="-160.57" y="0" font-size="13" textLength="161.11" lengthAdjust="spacingAndGlyphs" fill="#111">BMF-MK+OT-2+OVA-2+Ab</text>
</svg></body></html>
